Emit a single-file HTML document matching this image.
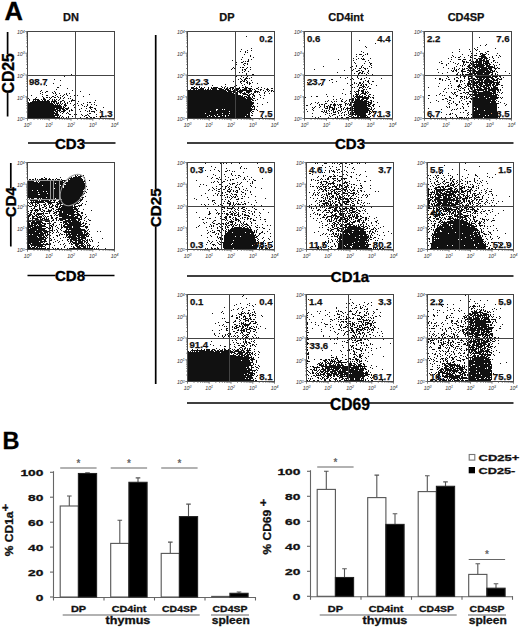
<!DOCTYPE html>
<html><head><meta charset="utf-8"><style>
html,body{margin:0;padding:0;background:#fff;}
svg{display:block;font-family:"Liberation Sans",sans-serif;}
.tk{font-size:5.2px;fill:#333;font-style:italic;}
.tks{font-size:3.5px;}
.q{font-size:9.6px;font-weight:bold;fill:#111;stroke:#111;stroke-width:0.25px;}
.t{font-size:11px;font-weight:bold;fill:#111;stroke:#111;stroke-width:0.25px;}
.ax{font-size:15px;font-weight:bold;fill:#000;stroke:#000;stroke-width:0.35px;}
.big{font-size:24px;font-weight:bold;fill:#000;}
.bt{font-weight:bold;fill:#111;}
</style></head><body>
<svg width="520" height="630" viewBox="0 0 520 630">
<rect width="520" height="630" fill="#fff"/>
<path transform="translate(27,31.5)" d="M44 43h1M37 45h1M27 48h1M33 49h1M26 52h1M19 54h1M33 54h1M30 56h2M40 57h1M29 58h1M14 59h1M45 59h1M13 60h1M19 60h2M27 60h1M53 60h1M15 61h1M18 61h1M25 61h1M28 61h1M13 62h1M26 62h1M28 62h1M32 62h1M39 62h1M42 62h1M15 63h1M29 63h1M37 63h1M39 63h1M62 63h1M4 64h1M19 64h2M28 64h1M33 64h1M36 64h1M40 64h1M47 64h1M50 64h1M15 65h1M25 65h2M30 65h1M35 65h1M43 65h1M56 65h1M9 66h1M16 66h1M19 66h2M22 66h1M24 66h1M27 66h2M31 66h1M33 66h1M37 66h1M1 67h1M8 67h1M16 67h2M23 67h1M33 67h1M36 67h1M41 67h1M43 67h1M2 68h1M6 68h6M14 68h1M16 68h3M22 68h1M25 68h1M27 68h1M29 68h1M32 68h1M45 68h1M2 69h1M6 69h1M8 69h1M10 69h3M15 69h1M17 69h2M20 69h2M25 69h1M27 69h2M31 69h1M35 69h2M44 69h4M68 69h1M5 70h18M24 70h6M33 70h2M37 70h1M42 70h1M44 70h1M51 70h1M1 71h1M3 71h20M24 71h1M26 71h2M29 71h1M31 71h1M33 71h1M37 71h1M40 71h1M60 71h1M62 71h2M67 71h1M1 72h25M27 72h1M29 72h3M33 72h1M35 72h1M38 72h1M40 72h1M43 72h1M50 72h1M56 72h1M1 73h26M28 73h1M30 73h1M32 73h1M34 73h1M37 73h2M47 73h1M54 73h1M60 73h1M64 73h1M67 73h1M1 74h33M37 74h3M46 74h1M51 74h1M55 74h1M60 74h1M69 74h1M1 75h34M36 75h1M38 75h1M57 75h1M59 75h1M63 75h1M1 76h34M36 76h2M41 76h1M47 76h1M62 76h4M76 76h1M1 77h27M29 77h8M38 77h4M54 77h1M59 77h1M63 77h1M67 77h2M1 78h30M32 78h2M35 78h3M39 78h2M44 78h1M52 78h1M64 78h1M68 78h1M1 79h28M30 79h4M36 79h3M42 79h1M44 79h2M58 79h1M62 79h1M69 79h1M73 79h1M1 80h26M28 80h3M32 80h1M34 80h4M42 80h1M53 80h1M60 80h1M62 80h1M64 80h4M1 81h27M29 81h2M33 81h1M36 81h1M40 81h1M67 81h1M1 82h30M35 82h1M39 82h1M41 82h1M62 82h2M1 83h26M28 83h4M42 83h2M47 83h1M49 83h1M54 83h1M60 83h1M69 83h1M1 84h31M33 84h1M55 84h1M58 84h2M61 84h1M1 85h27M30 85h1M32 85h1M35 85h1M41 85h1M45 85h1M48 85h1M57 85h1M62 85h1M69 85h1M1 86h32M34 86h1M36 86h1M39 86h1M41 86h1M53 86h1M59 86h2M63 86h2M66 86h2M73 86h1" stroke="#111" stroke-width="1" fill="none"/>
<rect x="27.5" y="31.5" width="87" height="87" fill="none" stroke="#444" stroke-width="1"/>
<path d="M75.5 31v88M27 75.5h88" stroke="#444" stroke-width="1"/>
<text x="24.7" y="121.4" text-anchor="end" class="tk">10<tspan dy="-1.8" class="tks">0</tspan></text>
<text x="27.5" y="126.5" text-anchor="middle" class="tk">10<tspan dy="-1.8" class="tks">0</tspan></text>
<text x="24.7" y="99.7" text-anchor="end" class="tk">10<tspan dy="-1.8" class="tks">1</tspan></text>
<text x="49.2" y="126.5" text-anchor="middle" class="tk">10<tspan dy="-1.8" class="tks">1</tspan></text>
<text x="24.7" y="77.9" text-anchor="end" class="tk">10<tspan dy="-1.8" class="tks">2</tspan></text>
<text x="71.0" y="126.5" text-anchor="middle" class="tk">10<tspan dy="-1.8" class="tks">2</tspan></text>
<text x="24.7" y="56.1" text-anchor="end" class="tk">10<tspan dy="-1.8" class="tks">3</tspan></text>
<text x="92.8" y="126.5" text-anchor="middle" class="tk">10<tspan dy="-1.8" class="tks">3</tspan></text>
<text x="24.7" y="34.4" text-anchor="end" class="tk">10<tspan dy="-1.8" class="tks">4</tspan></text>
<text x="114.5" y="126.5" text-anchor="middle" class="tk">10<tspan dy="-1.8" class="tks">4</tspan></text>
<path d="M25.3 118.5h2.2M27.5 118.5v2.2M26.2 112.0h1.3M34.0 118.5v1.3M26.2 108.1h1.3M37.9 118.5v1.3M26.2 105.4h1.3M40.6 118.5v1.3M26.2 103.3h1.3M42.7 118.5v1.3M26.2 101.6h1.3M44.4 118.5v1.3M26.2 100.1h1.3M45.9 118.5v1.3M26.2 98.9h1.3M47.1 118.5v1.3M26.2 97.7h1.3M48.3 118.5v1.3M25.3 96.8h2.2M49.2 118.5v2.2M26.2 90.2h1.3M55.8 118.5v1.3M26.2 86.4h1.3M59.6 118.5v1.3M26.2 83.7h1.3M62.3 118.5v1.3M26.2 81.5h1.3M64.5 118.5v1.3M26.2 79.8h1.3M66.2 118.5v1.3M26.2 78.4h1.3M67.6 118.5v1.3M26.2 77.1h1.3M68.9 118.5v1.3M26.2 76.0h1.3M70.0 118.5v1.3M25.3 75.0h2.2M71.0 118.5v2.2M26.2 68.5h1.3M77.5 118.5v1.3M26.2 64.6h1.3M81.4 118.5v1.3M26.2 61.9h1.3M84.1 118.5v1.3M26.2 59.8h1.3M86.2 118.5v1.3M26.2 58.1h1.3M87.9 118.5v1.3M26.2 56.6h1.3M89.4 118.5v1.3M26.2 55.4h1.3M90.6 118.5v1.3M26.2 54.2h1.3M91.8 118.5v1.3M25.3 53.2h2.2M92.8 118.5v2.2M26.2 46.7h1.3M99.3 118.5v1.3M26.2 42.9h1.3M103.1 118.5v1.3M26.2 40.2h1.3M105.8 118.5v1.3M26.2 38.0h1.3M108.0 118.5v1.3M26.2 36.3h1.3M109.7 118.5v1.3M26.2 34.9h1.3M111.1 118.5v1.3M26.2 33.6h1.3M112.4 118.5v1.3M26.2 32.5h1.3M113.5 118.5v1.3M25.3 31.5h2.2M114.5 118.5v2.2" stroke="#555" stroke-width="0.8" fill="none"/>
<text x="112.5" y="116.7" class="q" text-anchor="end">1.3</text>
<text x="29" y="85.2" class="q">98.7</text>
<path transform="translate(27,162.5)" d="M48 13h1M50 13h1M53 13h1M56 13h1M48 14h2M51 14h4M17 15h1M33 15h1M44 15h1M46 15h8M57 15h1M8 16h1M14 16h2M18 16h2M22 16h1M29 16h1M42 16h13M57 16h1M2 17h2M5 17h2M8 17h1M10 17h1M12 17h8M21 17h3M25 17h2M28 17h1M30 17h3M34 17h1M41 17h1M43 17h13M4 18h12M18 18h2M21 18h10M32 18h1M34 18h6M41 18h15M57 18h1M62 18h1M1 19h6M9 19h1M11 19h1M13 19h23M37 19h1M41 19h18M1 20h10M12 20h25M39 20h18M58 20h1M1 21h27M29 21h7M38 21h21M1 22h35M39 22h19M1 23h14M16 23h17M34 23h2M37 23h22M1 24h35M37 24h23M1 25h35M37 25h22M1 26h26M28 26h30M1 27h56M60 27h1M1 28h4M6 28h4M11 28h45M1 29h15M17 29h2M20 29h39M1 30h10M12 30h44M59 30h1M1 31h19M21 31h37M1 32h10M13 32h13M27 32h30M1 33h22M24 33h32M1 34h53M58 34h1M1 35h18M20 35h33M54 35h3M2 36h1M4 36h3M10 36h2M13 36h1M15 36h8M24 36h4M29 36h4M34 36h20M55 36h1M1 37h3M5 37h1M8 37h6M15 37h9M25 37h27M53 37h3M3 38h8M12 38h1M14 38h8M23 38h2M26 38h3M32 38h23M4 39h1M6 39h1M8 39h9M18 39h6M27 39h1M31 39h3M35 39h17M53 39h1M59 39h1M1 40h1M3 40h15M20 40h8M29 40h2M32 40h19M52 40h1M2 41h1M4 41h2M8 41h1M10 41h2M18 41h1M21 41h4M30 41h22M55 41h1M3 42h1M5 42h1M8 42h2M12 42h1M16 42h3M21 42h1M23 42h1M25 42h1M29 42h3M33 42h1M36 42h13M54 42h1M58 42h1M1 43h1M5 43h2M8 43h1M10 43h1M12 43h1M14 43h1M17 43h1M19 43h1M22 43h1M25 43h2M28 43h1M30 43h1M33 43h13M47 43h1M51 43h4M2 44h3M7 44h3M12 44h1M17 44h2M22 44h1M24 44h2M28 44h3M32 44h2M35 44h11M47 44h4M52 44h1M7 45h1M12 45h1M15 45h2M19 45h1M22 45h3M29 45h2M32 45h1M34 45h15M4 46h1M6 46h2M12 46h2M18 46h2M25 46h2M31 46h15M47 46h3M51 46h1M5 47h1M8 47h3M12 47h2M15 47h1M21 47h1M24 47h1M26 47h1M29 47h22M56 47h1M3 48h3M7 48h5M13 48h1M16 48h2M21 48h4M28 48h1M31 48h1M33 48h14M49 48h2M64 48h1M1 49h1M4 49h1M8 49h1M10 49h1M14 49h2M17 49h1M19 49h5M26 49h1M29 49h6M36 49h13M50 49h3M3 50h2M7 50h1M9 50h1M16 50h1M22 50h1M27 50h3M32 50h3M36 50h12M49 50h2M54 50h2M1 51h1M3 51h1M6 51h2M10 51h7M18 51h3M22 51h1M26 51h2M29 51h1M32 51h15M50 51h2M54 51h2M2 52h3M7 52h1M9 52h6M16 52h1M28 52h1M31 52h9M41 52h12M58 52h1M1 53h3M5 53h1M8 53h2M11 53h1M15 53h1M17 53h1M23 53h2M27 53h1M29 53h2M32 53h10M44 53h4M50 53h4M55 53h1M1 54h2M5 54h3M9 54h2M12 54h3M16 54h1M18 54h1M20 54h2M24 54h1M32 54h15M48 54h3M53 54h2M59 54h1M1 55h1M5 55h2M10 55h5M17 55h1M19 55h1M24 55h2M29 55h2M35 55h16M53 55h2M58 55h1M1 56h1M3 56h1M5 56h6M13 56h1M15 56h3M19 56h1M21 56h1M24 56h2M28 56h2M32 56h21M54 56h1M57 56h1M1 57h1M5 57h1M8 57h4M13 57h3M17 57h5M26 57h1M29 57h1M32 57h7M41 57h2M44 57h5M51 57h4M61 57h1M1 58h1M4 58h1M6 58h9M16 58h1M19 58h1M22 58h1M25 58h2M29 58h1M31 58h1M33 58h3M38 58h12M51 58h2M57 58h1M62 58h2M1 59h3M5 59h3M9 59h6M18 59h4M24 59h1M36 59h8M45 59h7M53 59h1M59 59h1M1 60h1M4 60h12M22 60h1M27 60h2M33 60h2M36 60h4M41 60h13M56 60h1M1 61h2M4 61h10M15 61h4M20 61h2M23 61h1M26 61h1M36 61h1M38 61h3M42 61h12M55 61h2M58 61h2M1 62h2M4 62h2M7 62h3M11 62h4M17 62h2M22 62h1M25 62h2M32 62h1M34 62h1M37 62h18M58 62h1M62 62h1M1 63h8M10 63h1M12 63h6M23 63h2M26 63h1M29 63h1M34 63h1M36 63h2M40 63h14M56 63h2M1 64h5M7 64h12M22 64h1M24 64h2M28 64h1M34 64h1M36 64h9M46 64h11M58 64h3M1 65h3M5 65h10M19 65h2M22 65h2M25 65h1M30 65h1M34 65h2M37 65h8M46 65h7M58 65h3M1 66h1M3 66h16M21 66h1M23 66h1M25 66h1M31 66h1M34 66h1M39 66h2M42 66h12M59 66h1M1 67h9M11 67h7M25 67h1M29 67h1M33 67h1M39 67h19M61 67h1M1 68h19M22 68h4M27 68h1M30 68h1M34 68h1M38 68h2M41 68h1M44 68h15M60 68h1M1 69h7M9 69h6M16 69h6M25 69h1M30 69h1M36 69h19M57 69h3M62 69h1M70 69h1M73 69h1M1 70h15M17 70h4M22 70h2M26 70h1M29 70h1M31 70h1M37 70h19M57 70h2M60 70h1M1 71h11M13 71h6M20 71h1M25 71h1M33 71h1M39 71h1M41 71h2M44 71h12M57 71h1M59 71h3M1 72h1M3 72h2M6 72h11M18 72h1M20 72h2M32 72h1M34 72h2M37 72h1M39 72h11M51 72h10M62 72h1M1 73h16M18 73h3M23 73h1M29 73h2M32 73h1M39 73h2M42 73h2M45 73h15M61 73h1M1 74h9M11 74h4M16 74h2M19 74h1M30 74h1M39 74h1M41 74h8M50 74h3M54 74h4M59 74h3M1 75h10M12 75h7M20 75h1M26 75h1M36 75h1M38 75h1M40 75h10M51 75h8M64 75h1M1 76h16M18 76h2M23 76h1M33 76h1M42 76h1M44 76h9M54 76h5M75 76h1M1 77h18M24 77h1M27 77h1M40 77h2M43 77h7M51 77h5M58 77h1M60 77h1M62 77h1M64 77h1M1 78h14M17 78h2M23 78h2M30 78h1M35 78h1M40 78h1M43 78h2M46 78h8M55 78h3M59 78h2M62 78h1M65 78h1M1 79h11M13 79h7M22 79h1M28 79h1M32 79h1M41 79h1M43 79h3M48 79h2M51 79h5M57 79h2M60 79h1M63 79h1M65 79h1M1 80h15M17 80h1M26 80h1M31 80h1M43 80h1M45 80h5M51 80h5M57 80h1M59 80h2M71 80h1M1 81h3M5 81h9M16 81h1M19 81h2M23 81h1M37 81h1M42 81h1M44 81h1M46 81h11M59 81h1M61 81h1M1 82h1M3 82h21M33 82h1M36 82h1M44 82h2M48 82h4M54 82h2M57 82h1M60 82h1M62 82h1M1 83h2M4 83h12M18 83h1M27 83h1M38 83h1M48 83h3M52 83h5M58 83h1M60 83h4M71 83h1M1 84h2M4 84h1M7 84h2M10 84h8M37 84h1M44 84h1M46 84h1M49 84h4M54 84h5M60 84h1M62 84h1M66 84h1M70 84h1M1 85h3M5 85h3M9 85h2M12 85h1M14 85h1M18 85h1M25 85h1M37 85h1M46 85h2M50 85h4M56 85h3M60 85h1M62 85h1M65 85h1M1 86h18M20 86h3M26 86h1M28 86h1M30 86h2M34 86h1M40 86h1M42 86h24M67 86h1M69 86h1M71 86h1M78 86h1" stroke="#111" stroke-width="1" fill="none"/>
<rect x="27.5" y="162.5" width="87" height="87" fill="none" stroke="#444" stroke-width="1"/>
<text x="24.7" y="252.4" text-anchor="end" class="tk">10<tspan dy="-1.8" class="tks">0</tspan></text>
<text x="27.5" y="257.5" text-anchor="middle" class="tk">10<tspan dy="-1.8" class="tks">0</tspan></text>
<text x="24.7" y="230.7" text-anchor="end" class="tk">10<tspan dy="-1.8" class="tks">1</tspan></text>
<text x="49.2" y="257.5" text-anchor="middle" class="tk">10<tspan dy="-1.8" class="tks">1</tspan></text>
<text x="24.7" y="208.9" text-anchor="end" class="tk">10<tspan dy="-1.8" class="tks">2</tspan></text>
<text x="71.0" y="257.5" text-anchor="middle" class="tk">10<tspan dy="-1.8" class="tks">2</tspan></text>
<text x="24.7" y="187.2" text-anchor="end" class="tk">10<tspan dy="-1.8" class="tks">3</tspan></text>
<text x="92.8" y="257.5" text-anchor="middle" class="tk">10<tspan dy="-1.8" class="tks">3</tspan></text>
<text x="24.7" y="165.4" text-anchor="end" class="tk">10<tspan dy="-1.8" class="tks">4</tspan></text>
<text x="114.5" y="257.5" text-anchor="middle" class="tk">10<tspan dy="-1.8" class="tks">4</tspan></text>
<path d="M25.3 249.5h2.2M27.5 249.5v2.2M26.2 243.0h1.3M34.0 249.5v1.3M26.2 239.1h1.3M37.9 249.5v1.3M26.2 236.4h1.3M40.6 249.5v1.3M26.2 234.3h1.3M42.7 249.5v1.3M26.2 232.6h1.3M44.4 249.5v1.3M26.2 231.1h1.3M45.9 249.5v1.3M26.2 229.9h1.3M47.1 249.5v1.3M26.2 228.7h1.3M48.3 249.5v1.3M25.3 227.8h2.2M49.2 249.5v2.2M26.2 221.2h1.3M55.8 249.5v1.3M26.2 217.4h1.3M59.6 249.5v1.3M26.2 214.7h1.3M62.3 249.5v1.3M26.2 212.5h1.3M64.5 249.5v1.3M26.2 210.8h1.3M66.2 249.5v1.3M26.2 209.4h1.3M67.6 249.5v1.3M26.2 208.1h1.3M68.9 249.5v1.3M26.2 207.0h1.3M70.0 249.5v1.3M25.3 206.0h2.2M71.0 249.5v2.2M26.2 199.5h1.3M77.5 249.5v1.3M26.2 195.6h1.3M81.4 249.5v1.3M26.2 192.9h1.3M84.1 249.5v1.3M26.2 190.8h1.3M86.2 249.5v1.3M26.2 189.1h1.3M87.9 249.5v1.3M26.2 187.6h1.3M89.4 249.5v1.3M26.2 186.4h1.3M90.6 249.5v1.3M26.2 185.2h1.3M91.8 249.5v1.3M25.3 184.2h2.2M92.8 249.5v2.2M26.2 177.7h1.3M99.3 249.5v1.3M26.2 173.9h1.3M103.1 249.5v1.3M26.2 171.2h1.3M105.8 249.5v1.3M26.2 169.0h1.3M108.0 249.5v1.3M26.2 167.3h1.3M109.7 249.5v1.3M26.2 165.9h1.3M111.1 249.5v1.3M26.2 164.6h1.3M112.4 249.5v1.3M26.2 163.5h1.3M113.5 249.5v1.3M25.3 162.5h2.2M114.5 249.5v2.2" stroke="#555" stroke-width="0.8" fill="none"/>
<path transform="translate(187,31.5)" d="M59 5h1M64 17h1M54 18h1M60 19h1M64 19h1M53 20h1M58 20h1M58 21h1M60 21h1M57 23h1M63 24h1M63 25h1M55 26h1M66 26h1M54 28h1M61 28h1M64 28h1M45 29h1M61 29h1M56 30h1M58 30h1M60 30h2M49 31h1M54 31h2M57 32h2M60 32h1M49 33h1M56 33h1M60 33h1M57 34h1M46 36h1M53 36h1M55 36h2M60 36h1M63 36h1M45 37h1M47 37h1M59 37h1M44 38h1M55 38h1M57 38h2M63 38h1M55 39h1M58 39h1M57 40h1M61 40h1M52 41h1M55 41h1M59 42h1M59 43h1M65 43h2M56 44h1M61 44h2M49 45h1M54 45h1M60 45h1M56 46h1M59 46h1M64 46h1M53 47h1M58 47h3M62 47h1M51 48h1M54 48h1M57 48h2M55 49h1M57 49h1M59 49h1M64 49h1M46 50h1M53 50h2M56 50h2M60 50h1M53 51h1M59 51h2M62 51h1M65 51h1M21 52h1M54 52h1M60 52h1M62 52h2M70 52h1M38 53h1M57 53h1M62 53h1M25 54h1M49 54h1M55 54h1M7 55h1M12 55h1M34 55h1M38 55h1M47 55h1M58 55h1M64 55h1M4 56h3M9 56h1M12 56h1M14 56h1M17 56h1M21 56h1M24 56h1M26 56h5M35 56h1M37 56h1M40 56h1M43 56h4M48 56h1M52 56h1M55 56h2M58 56h3M71 56h1M74 56h1M4 57h7M13 57h4M21 57h1M24 57h6M31 57h4M37 57h1M39 57h2M42 57h2M45 57h2M49 57h4M57 57h3M61 57h4M69 57h2M77 57h1M80 57h1M84 57h2M3 58h1M6 58h2M9 58h1M11 58h6M18 58h1M20 58h2M23 58h1M25 58h5M32 58h5M38 58h4M43 58h1M45 58h1M47 58h5M53 58h1M55 58h5M62 58h2M65 58h1M67 58h1M71 58h1M73 58h2M79 58h3M1 59h38M40 59h4M46 59h5M52 59h13M68 59h1M73 59h1M76 59h1M80 59h1M82 59h1M84 59h2M1 60h39M41 60h8M50 60h6M59 60h6M67 60h5M78 60h1M81 60h1M84 60h1M86 60h1M1 61h44M46 61h5M52 61h3M57 61h1M59 61h4M67 61h2M70 61h1M72 61h1M77 61h1M1 62h46M48 62h3M53 62h1M55 62h4M61 62h1M64 62h1M66 62h1M77 62h1M82 62h1M1 63h50M56 63h5M62 63h2M65 63h2M72 63h1M1 64h53M55 64h1M60 64h3M66 64h2M73 64h1M77 64h1M1 65h55M57 65h3M61 65h2M65 65h1M67 65h1M1 66h57M59 66h5M65 66h1M73 66h1M1 67h58M60 67h5M66 67h2M76 67h1M1 68h65M70 68h1M1 69h63M65 69h2M68 69h1M1 70h64M1 71h66M80 71h1M1 72h66M70 72h1M1 73h65M75 73h1M1 74h64M66 74h1M1 75h67M70 75h1M1 76h63M65 76h1M67 76h1M1 77h64M67 77h1M1 78h28M31 78h4M36 78h1M38 78h30M69 78h1M1 79h28M30 79h35M70 79h1M1 80h22M24 80h18M43 80h21M65 80h2M1 81h62M64 81h1M1 82h17M19 82h16M36 82h6M43 82h20M65 82h1M1 83h29M31 83h29M61 83h2M1 84h21M23 84h4M28 84h7M36 84h2M39 84h2M42 84h21M64 84h2M1 85h19M21 85h3M25 85h3M29 85h2M33 85h5M39 85h19M59 85h4M1 86h63M75 86h1" stroke="#111" stroke-width="1" fill="none"/>
<rect x="187.5" y="31.5" width="87" height="87" fill="none" stroke="#444" stroke-width="1"/>
<path d="M235.5 31v88M187 75.5h88" stroke="#444" stroke-width="1"/>
<text x="184.7" y="121.4" text-anchor="end" class="tk">10<tspan dy="-1.8" class="tks">0</tspan></text>
<text x="187.5" y="126.5" text-anchor="middle" class="tk">10<tspan dy="-1.8" class="tks">0</tspan></text>
<text x="184.7" y="99.7" text-anchor="end" class="tk">10<tspan dy="-1.8" class="tks">1</tspan></text>
<text x="209.2" y="126.5" text-anchor="middle" class="tk">10<tspan dy="-1.8" class="tks">1</tspan></text>
<text x="184.7" y="77.9" text-anchor="end" class="tk">10<tspan dy="-1.8" class="tks">2</tspan></text>
<text x="231.0" y="126.5" text-anchor="middle" class="tk">10<tspan dy="-1.8" class="tks">2</tspan></text>
<text x="184.7" y="56.1" text-anchor="end" class="tk">10<tspan dy="-1.8" class="tks">3</tspan></text>
<text x="252.8" y="126.5" text-anchor="middle" class="tk">10<tspan dy="-1.8" class="tks">3</tspan></text>
<text x="184.7" y="34.4" text-anchor="end" class="tk">10<tspan dy="-1.8" class="tks">4</tspan></text>
<text x="274.5" y="126.5" text-anchor="middle" class="tk">10<tspan dy="-1.8" class="tks">4</tspan></text>
<path d="M185.3 118.5h2.2M187.5 118.5v2.2M186.2 112.0h1.3M194.0 118.5v1.3M186.2 108.1h1.3M197.9 118.5v1.3M186.2 105.4h1.3M200.6 118.5v1.3M186.2 103.3h1.3M202.7 118.5v1.3M186.2 101.6h1.3M204.4 118.5v1.3M186.2 100.1h1.3M205.9 118.5v1.3M186.2 98.9h1.3M207.1 118.5v1.3M186.2 97.7h1.3M208.3 118.5v1.3M185.3 96.8h2.2M209.2 118.5v2.2M186.2 90.2h1.3M215.8 118.5v1.3M186.2 86.4h1.3M219.6 118.5v1.3M186.2 83.7h1.3M222.3 118.5v1.3M186.2 81.5h1.3M224.5 118.5v1.3M186.2 79.8h1.3M226.2 118.5v1.3M186.2 78.4h1.3M227.6 118.5v1.3M186.2 77.1h1.3M228.9 118.5v1.3M186.2 76.0h1.3M230.0 118.5v1.3M185.3 75.0h2.2M231.0 118.5v2.2M186.2 68.5h1.3M237.5 118.5v1.3M186.2 64.6h1.3M241.4 118.5v1.3M186.2 61.9h1.3M244.1 118.5v1.3M186.2 59.8h1.3M246.2 118.5v1.3M186.2 58.1h1.3M247.9 118.5v1.3M186.2 56.6h1.3M249.4 118.5v1.3M186.2 55.4h1.3M250.6 118.5v1.3M186.2 54.2h1.3M251.8 118.5v1.3M185.3 53.2h2.2M252.8 118.5v2.2M186.2 46.7h1.3M259.3 118.5v1.3M186.2 42.9h1.3M263.1 118.5v1.3M186.2 40.2h1.3M265.8 118.5v1.3M186.2 38.0h1.3M268.0 118.5v1.3M186.2 36.3h1.3M269.7 118.5v1.3M186.2 34.9h1.3M271.1 118.5v1.3M186.2 33.6h1.3M272.4 118.5v1.3M186.2 32.5h1.3M273.5 118.5v1.3M185.3 31.5h2.2M274.5 118.5v2.2" stroke="#555" stroke-width="0.8" fill="none"/>
<text x="272.5" y="42" class="q" text-anchor="end">0.2</text>
<text x="272.5" y="116.7" class="q" text-anchor="end">7.5</text>
<text x="189.8" y="85.2" class="q">92.3</text>
<path transform="translate(304,31.5)" d="M55 9h1M71 12h1M61 15h1M62 16h1M57 20h1M59 21h1M63 22h1M52 23h1M55 23h3M61 23h1M63 23h1M59 24h1M52 25h1M58 25h1M49 27h1M54 27h1M57 27h1M59 27h1M66 27h1M34 28h1M52 28h1M58 28h3M49 29h1M64 29h1M61 30h1M50 31h1M65 31h1M51 32h1M60 32h1M66 32h2M66 33h1M52 34h1M58 34h1M67 34h1M19 35h1M48 35h1M52 35h1M57 35h1M65 35h1M46 36h1M57 36h1M59 36h1M67 36h1M51 37h1M55 37h2M60 37h2M63 37h1M10 38h1M49 38h1M61 38h1M40 39h1M48 39h1M54 39h2M57 39h1M64 39h1M47 40h1M52 40h2M58 40h2M64 40h1M33 41h1M55 41h2M58 41h1M63 41h1M50 42h1M54 42h2M57 42h2M60 42h1M64 42h1M47 43h1M54 43h1M62 43h1M68 43h1M51 44h1M55 44h2M64 44h2M53 45h1M36 46h1M43 46h1M53 46h1M62 46h1M41 47h1M48 47h1M54 47h1M57 47h1M60 47h1M65 47h1M77 47h1M27 48h2M46 48h1M49 48h1M56 48h2M25 49h1M61 49h1M64 49h1M32 50h1M59 50h1M63 50h2M68 50h2M3 51h1M28 51h1M47 51h1M50 51h1M55 51h2M59 51h1M64 51h1M8 52h1M16 52h1M43 52h1M50 52h1M52 52h1M55 52h2M58 52h1M65 52h1M48 53h1M54 53h1M57 53h1M59 53h1M61 53h2M67 53h1M17 54h1M46 54h1M54 54h1M56 54h2M59 54h1M62 54h1M72 54h1M53 55h1M58 55h3M64 55h1M48 56h1M50 56h1M55 56h3M59 56h1M61 56h1M63 56h1M55 57h1M58 57h1M65 57h2M39 58h1M54 58h1M59 58h2M62 58h1M54 59h2M57 59h3M46 60h2M50 60h1M52 60h3M57 60h3M61 60h1M63 60h1M47 61h1M51 61h1M54 61h1M58 61h2M61 61h2M64 61h1M38 62h1M46 62h2M52 62h1M54 62h1M57 62h5M63 62h1M22 63h1M41 63h1M51 63h4M56 63h1M60 63h2M65 63h2M47 64h1M49 64h1M52 64h2M55 64h1M58 64h1M62 64h1M64 64h1M69 64h1M7 65h1M12 65h2M23 65h1M29 65h1M49 65h1M51 65h8M60 65h2M64 65h2M1 66h1M50 66h1M52 66h13M66 66h1M68 66h2M36 67h1M48 67h2M51 67h1M53 67h3M58 67h7M69 67h1M29 68h1M32 68h1M38 68h1M45 68h2M48 68h2M51 68h5M57 68h3M62 68h2M24 69h1M37 69h1M42 69h1M45 69h1M47 69h3M51 69h8M60 69h3M66 69h2M21 70h1M23 70h1M27 70h1M30 70h1M32 70h1M37 70h2M41 70h1M45 70h1M47 70h2M50 70h15M67 70h1M69 70h1M11 71h1M14 71h1M28 71h1M40 71h1M46 71h17M64 71h4M73 71h1M7 72h1M13 72h1M21 72h2M30 72h1M41 72h2M44 72h1M46 72h2M50 72h15M66 72h2M6 73h1M15 73h1M17 73h2M20 73h1M26 73h2M29 73h3M33 73h1M35 73h3M41 73h1M43 73h1M45 73h3M49 73h14M64 73h3M69 73h2M2 74h2M15 74h1M20 74h1M24 74h1M26 74h1M29 74h3M34 74h1M36 74h1M41 74h1M45 74h3M49 74h17M68 74h2M11 75h1M16 75h1M20 75h1M22 75h2M25 75h2M30 75h1M36 75h2M47 75h16M64 75h3M69 75h1M75 75h1M8 76h1M10 76h1M15 76h1M20 76h1M23 76h1M25 76h4M30 76h1M34 76h1M36 76h1M40 76h1M43 76h1M46 76h3M50 76h14M67 76h1M9 77h1M21 77h3M25 77h1M28 77h3M32 77h1M37 77h1M39 77h1M42 77h5M48 77h18M67 77h1M70 77h1M2 78h1M8 78h1M18 78h1M25 78h1M28 78h3M32 78h1M37 78h1M39 78h1M41 78h1M43 78h1M46 78h3M50 78h15M66 78h2M69 78h1M9 79h1M20 79h1M22 79h1M24 79h1M27 79h1M29 79h1M34 79h2M37 79h1M43 79h1M45 79h21M68 79h1M3 80h1M17 80h2M20 80h1M22 80h1M25 80h1M29 80h1M31 80h1M33 80h1M36 80h1M41 80h1M44 80h1M48 80h1M50 80h14M65 80h2M19 81h1M21 81h2M29 81h3M34 81h1M38 81h1M40 81h1M44 81h1M46 81h18M65 81h1M67 81h1M69 81h1M8 82h1M23 82h1M25 82h1M27 82h1M34 82h1M37 82h1M44 82h1M46 82h1M48 82h2M51 82h11M65 82h2M71 82h1M21 83h1M29 83h3M40 83h1M42 83h1M45 83h2M48 83h14M64 83h2M25 84h1M28 84h1M35 84h1M37 84h1M40 84h1M44 84h1M47 84h2M51 84h1M53 84h10M68 84h1M73 84h1M8 85h1M16 85h1M26 85h1M33 85h1M45 85h2M49 85h1M53 85h2M56 85h6M63 85h1M66 85h1M75 85h1M11 86h1M14 86h1M24 86h1M31 86h1M33 86h1M37 86h2M42 86h3M47 86h19" stroke="#111" stroke-width="1" fill="none"/>
<rect x="304.5" y="31.5" width="88" height="87" fill="none" stroke="#444" stroke-width="1"/>
<path d="M351.5 31v88M304 75.5h89" stroke="#444" stroke-width="1"/>
<text x="301.7" y="121.4" text-anchor="end" class="tk">10<tspan dy="-1.8" class="tks">0</tspan></text>
<text x="304.5" y="126.5" text-anchor="middle" class="tk">10<tspan dy="-1.8" class="tks">0</tspan></text>
<text x="301.7" y="99.7" text-anchor="end" class="tk">10<tspan dy="-1.8" class="tks">1</tspan></text>
<text x="326.5" y="126.5" text-anchor="middle" class="tk">10<tspan dy="-1.8" class="tks">1</tspan></text>
<text x="301.7" y="77.9" text-anchor="end" class="tk">10<tspan dy="-1.8" class="tks">2</tspan></text>
<text x="348.5" y="126.5" text-anchor="middle" class="tk">10<tspan dy="-1.8" class="tks">2</tspan></text>
<text x="301.7" y="56.1" text-anchor="end" class="tk">10<tspan dy="-1.8" class="tks">3</tspan></text>
<text x="370.5" y="126.5" text-anchor="middle" class="tk">10<tspan dy="-1.8" class="tks">3</tspan></text>
<text x="301.7" y="34.4" text-anchor="end" class="tk">10<tspan dy="-1.8" class="tks">4</tspan></text>
<text x="392.5" y="126.5" text-anchor="middle" class="tk">10<tspan dy="-1.8" class="tks">4</tspan></text>
<path d="M302.3 118.5h2.2M304.5 118.5v2.2M303.2 112.0h1.3M311.1 118.5v1.3M303.2 108.1h1.3M315.0 118.5v1.3M303.2 105.4h1.3M317.7 118.5v1.3M303.2 103.3h1.3M319.9 118.5v1.3M303.2 101.6h1.3M321.6 118.5v1.3M303.2 100.1h1.3M323.1 118.5v1.3M303.2 98.9h1.3M324.4 118.5v1.3M303.2 97.7h1.3M325.5 118.5v1.3M302.3 96.8h2.2M326.5 118.5v2.2M303.2 90.2h1.3M333.1 118.5v1.3M303.2 86.4h1.3M337.0 118.5v1.3M303.2 83.7h1.3M339.7 118.5v1.3M303.2 81.5h1.3M341.9 118.5v1.3M303.2 79.8h1.3M343.6 118.5v1.3M303.2 78.4h1.3M345.1 118.5v1.3M303.2 77.1h1.3M346.4 118.5v1.3M303.2 76.0h1.3M347.5 118.5v1.3M302.3 75.0h2.2M348.5 118.5v2.2M303.2 68.5h1.3M355.1 118.5v1.3M303.2 64.6h1.3M359.0 118.5v1.3M303.2 61.9h1.3M361.7 118.5v1.3M303.2 59.8h1.3M363.9 118.5v1.3M303.2 58.1h1.3M365.6 118.5v1.3M303.2 56.6h1.3M367.1 118.5v1.3M303.2 55.4h1.3M368.4 118.5v1.3M303.2 54.2h1.3M369.5 118.5v1.3M302.3 53.2h2.2M370.5 118.5v2.2M303.2 46.7h1.3M377.1 118.5v1.3M303.2 42.9h1.3M381.0 118.5v1.3M303.2 40.2h1.3M383.7 118.5v1.3M303.2 38.0h1.3M385.9 118.5v1.3M303.2 36.3h1.3M387.6 118.5v1.3M303.2 34.9h1.3M389.1 118.5v1.3M303.2 33.6h1.3M390.4 118.5v1.3M303.2 32.5h1.3M391.5 118.5v1.3M302.3 31.5h2.2M392.5 118.5v2.2" stroke="#555" stroke-width="0.8" fill="none"/>
<text x="307" y="42" class="q">0.6</text>
<text x="390.5" y="42" class="q" text-anchor="end">4.4</text>
<text x="390.5" y="116.7" class="q" text-anchor="end">71.3</text>
<text x="307" y="85.3" class="q">23.7</text>
<path transform="translate(424,31.5)" d="M55 6h1M62 13h1M56 14h1M61 14h1M53 16h1M48 17h1M50 17h1M71 17h1M35 18h1M45 18h1M51 18h1M53 18h1M52 19h1M35 20h1M46 20h1M55 20h1M63 20h2M28 21h1M61 21h1M47 22h1M52 22h1M56 22h3M62 22h1M73 22h1M38 23h1M56 23h1M58 23h4M64 23h1M28 24h1M44 24h1M47 24h2M50 24h3M57 24h4M72 24h1M75 24h1M29 25h1M36 25h1M46 25h1M55 25h7M68 25h1M76 25h1M27 26h1M31 26h1M34 26h2M40 26h1M46 26h2M57 26h6M65 26h1M68 26h1M74 26h1M24 27h1M50 27h2M54 27h5M60 27h4M69 27h1M27 28h1M34 28h3M39 28h3M46 28h1M52 28h2M55 28h3M59 28h2M62 28h1M65 28h1M38 29h1M45 29h2M52 29h2M55 29h6M62 29h3M69 29h2M17 30h1M26 30h1M38 30h3M42 30h1M47 30h3M51 30h7M59 30h6M69 30h1M15 31h1M29 31h1M39 31h2M42 31h3M46 31h1M49 31h9M59 31h1M61 31h4M67 31h1M71 31h1M73 31h1M17 32h2M24 32h1M31 32h1M34 32h1M39 32h1M46 32h2M49 32h1M52 32h1M54 32h4M59 32h7M22 33h1M33 33h1M39 33h1M41 33h1M45 33h1M47 33h1M49 33h11M61 33h3M65 33h2M69 33h1M75 33h1M22 34h1M36 34h1M38 34h1M40 34h1M44 34h3M48 34h3M52 34h9M62 34h4M70 34h1M72 34h1M32 35h1M38 35h1M43 35h3M49 35h11M62 35h7M70 35h1M19 36h1M30 36h1M44 36h5M50 36h4M55 36h8M64 36h7M73 36h1M24 37h1M28 37h1M30 37h1M35 37h1M38 37h1M40 37h1M42 37h2M45 37h5M51 37h1M53 37h3M57 37h11M70 37h3M74 37h2M13 38h1M30 38h1M32 38h1M34 38h1M38 38h3M44 38h1M46 38h1M48 38h3M53 38h1M55 38h9M65 38h3M71 38h1M27 39h1M29 39h1M31 39h2M37 39h2M43 39h5M49 39h3M54 39h11M66 39h3M70 39h1M28 40h2M32 40h1M37 40h5M45 40h2M48 40h13M62 40h5M68 40h3M72 40h1M81 40h1M14 41h1M23 41h1M34 41h1M38 41h1M43 41h2M46 41h1M49 41h2M52 41h17M73 41h1M18 42h1M33 42h1M38 42h1M45 42h3M49 42h10M60 42h6M68 42h1M71 42h1M85 42h1M32 43h2M36 43h1M38 43h2M41 43h7M50 43h2M53 43h12M67 43h2M71 43h1M73 43h1M16 44h1M24 44h1M27 44h1M33 44h2M39 44h1M43 44h1M46 44h1M48 44h1M50 44h1M53 44h4M58 44h2M61 44h9M71 44h2M23 45h1M36 45h1M39 45h3M44 45h5M51 45h16M68 45h6M75 45h2M24 46h1M32 46h2M36 46h1M40 46h1M44 46h1M47 46h2M52 46h17M71 46h2M76 46h1M79 46h1M11 47h1M15 47h2M22 47h1M30 47h1M34 47h1M40 47h1M44 47h7M53 47h1M55 47h3M59 47h2M62 47h3M67 47h3M73 47h2M77 47h1M15 48h2M18 48h1M24 48h2M30 48h1M44 48h2M48 48h12M61 48h5M68 48h3M72 48h2M75 48h3M18 49h1M21 49h1M32 49h2M36 49h2M40 49h1M45 49h3M49 49h1M51 49h1M54 49h5M60 49h8M69 49h5M26 50h1M32 50h2M36 50h1M38 50h1M44 50h2M47 50h4M52 50h4M57 50h2M60 50h10M73 50h1M75 50h1M36 51h1M44 51h2M47 51h29M15 52h1M26 52h1M40 52h1M43 52h4M48 52h6M55 52h4M60 52h4M65 52h3M69 52h2M72 52h3M35 53h1M37 53h1M43 53h8M52 53h1M54 53h5M61 53h6M68 53h3M72 53h4M24 54h1M27 54h1M34 54h2M41 54h1M43 54h2M46 54h1M48 54h6M55 54h3M59 54h8M68 54h2M71 54h3M77 54h2M14 55h1M33 55h4M42 55h1M44 55h3M48 55h2M52 55h3M56 55h5M62 55h3M66 55h1M69 55h3M4 56h1M27 56h1M34 56h1M37 56h1M40 56h2M46 56h5M52 56h5M59 56h4M64 56h2M67 56h1M69 56h5M78 56h1M21 57h1M24 57h1M36 57h1M38 57h2M44 57h1M46 57h3M50 57h1M53 57h1M55 57h3M60 57h6M67 57h7M20 58h1M30 58h1M32 58h1M34 58h1M40 58h1M44 58h1M47 58h2M50 58h13M64 58h11M76 58h1M35 59h2M40 59h1M45 59h1M48 59h4M53 59h7M61 59h2M64 59h8M73 59h2M76 59h1M19 60h1M33 60h1M45 60h8M54 60h1M59 60h7M68 60h4M74 60h1M22 61h1M27 61h1M30 61h2M39 61h2M42 61h3M48 61h20M69 61h3M73 61h1M75 61h1M78 61h1M16 62h1M28 62h1M30 62h1M36 62h2M41 62h1M44 62h1M50 62h3M54 62h18M77 62h1M15 63h1M29 63h1M31 63h1M43 63h1M45 63h3M49 63h19M69 63h1M71 63h3M4 64h2M12 64h1M18 64h1M20 64h1M32 64h2M46 64h1M48 64h25M74 64h1M25 65h1M32 65h1M36 65h3M40 65h1M42 65h1M45 65h1M47 65h2M51 65h9M61 65h12M25 66h2M37 66h1M40 66h1M42 66h1M44 66h1M49 66h5M55 66h10M66 66h9M76 66h1M78 66h1M4 67h1M21 67h2M27 67h1M29 67h1M36 67h1M38 67h1M42 67h2M46 67h2M49 67h13M63 67h11M77 67h1M18 68h2M23 68h1M40 68h1M47 68h1M49 68h23M12 69h1M25 69h2M37 69h1M49 69h18M68 69h3M72 69h1M14 70h1M23 70h1M29 70h1M35 70h1M42 70h1M45 70h2M48 70h24M74 70h1M6 71h1M25 71h1M29 71h1M35 71h1M46 71h1M49 71h17M67 71h5M76 71h1M24 72h1M27 72h1M31 72h1M38 72h1M43 72h2M48 72h27M80 72h1M25 73h1M32 73h2M39 73h1M43 73h1M49 73h24M82 73h1M32 74h1M49 74h24M81 74h1M22 75h1M25 75h1M38 75h1M44 75h1M48 75h25M23 76h1M25 76h1M39 76h1M48 76h2M51 76h22M74 76h1M4 77h1M33 77h1M36 77h1M39 77h1M48 77h5M54 77h19M17 78h1M28 78h1M30 78h1M32 78h1M49 78h4M54 78h19M27 79h1M41 79h2M48 79h2M51 79h9M61 79h12M49 80h24M17 81h1M36 81h1M39 81h1M44 81h1M49 81h25M26 82h1M28 82h1M43 82h1M49 82h18M68 82h6M22 83h1M25 83h2M31 83h1M44 83h1M47 83h1M49 83h6M56 83h18M8 84h1M32 84h1M43 84h1M49 84h12M62 84h2M65 84h9M32 85h1M49 85h25M6 86h1M17 86h1M21 86h1M26 86h1M28 86h1M33 86h1M35 86h4M40 86h1M42 86h1M44 86h1M47 86h1M49 86h10M60 86h14M75 86h1" stroke="#111" stroke-width="1" fill="none"/>
<rect x="424.5" y="31.5" width="87" height="87" fill="none" stroke="#444" stroke-width="1"/>
<path d="M472.5 31v88M424 75.5h88" stroke="#444" stroke-width="1"/>
<text x="421.7" y="121.4" text-anchor="end" class="tk">10<tspan dy="-1.8" class="tks">0</tspan></text>
<text x="424.5" y="126.5" text-anchor="middle" class="tk">10<tspan dy="-1.8" class="tks">0</tspan></text>
<text x="421.7" y="99.7" text-anchor="end" class="tk">10<tspan dy="-1.8" class="tks">1</tspan></text>
<text x="446.2" y="126.5" text-anchor="middle" class="tk">10<tspan dy="-1.8" class="tks">1</tspan></text>
<text x="421.7" y="77.9" text-anchor="end" class="tk">10<tspan dy="-1.8" class="tks">2</tspan></text>
<text x="468.0" y="126.5" text-anchor="middle" class="tk">10<tspan dy="-1.8" class="tks">2</tspan></text>
<text x="421.7" y="56.1" text-anchor="end" class="tk">10<tspan dy="-1.8" class="tks">3</tspan></text>
<text x="489.8" y="126.5" text-anchor="middle" class="tk">10<tspan dy="-1.8" class="tks">3</tspan></text>
<text x="421.7" y="34.4" text-anchor="end" class="tk">10<tspan dy="-1.8" class="tks">4</tspan></text>
<text x="511.5" y="126.5" text-anchor="middle" class="tk">10<tspan dy="-1.8" class="tks">4</tspan></text>
<path d="M422.3 118.5h2.2M424.5 118.5v2.2M423.2 112.0h1.3M431.0 118.5v1.3M423.2 108.1h1.3M434.9 118.5v1.3M423.2 105.4h1.3M437.6 118.5v1.3M423.2 103.3h1.3M439.7 118.5v1.3M423.2 101.6h1.3M441.4 118.5v1.3M423.2 100.1h1.3M442.9 118.5v1.3M423.2 98.9h1.3M444.1 118.5v1.3M423.2 97.7h1.3M445.3 118.5v1.3M422.3 96.8h2.2M446.2 118.5v2.2M423.2 90.2h1.3M452.8 118.5v1.3M423.2 86.4h1.3M456.6 118.5v1.3M423.2 83.7h1.3M459.3 118.5v1.3M423.2 81.5h1.3M461.5 118.5v1.3M423.2 79.8h1.3M463.2 118.5v1.3M423.2 78.4h1.3M464.6 118.5v1.3M423.2 77.1h1.3M465.9 118.5v1.3M423.2 76.0h1.3M467.0 118.5v1.3M422.3 75.0h2.2M468.0 118.5v2.2M423.2 68.5h1.3M474.5 118.5v1.3M423.2 64.6h1.3M478.4 118.5v1.3M423.2 61.9h1.3M481.1 118.5v1.3M423.2 59.8h1.3M483.2 118.5v1.3M423.2 58.1h1.3M484.9 118.5v1.3M423.2 56.6h1.3M486.4 118.5v1.3M423.2 55.4h1.3M487.6 118.5v1.3M423.2 54.2h1.3M488.8 118.5v1.3M422.3 53.2h2.2M489.8 118.5v2.2M423.2 46.7h1.3M496.3 118.5v1.3M423.2 42.9h1.3M500.1 118.5v1.3M423.2 40.2h1.3M502.8 118.5v1.3M423.2 38.0h1.3M505.0 118.5v1.3M423.2 36.3h1.3M506.7 118.5v1.3M423.2 34.9h1.3M508.1 118.5v1.3M423.2 33.6h1.3M509.4 118.5v1.3M423.2 32.5h1.3M510.5 118.5v1.3M422.3 31.5h2.2M511.5 118.5v2.2" stroke="#555" stroke-width="0.8" fill="none"/>
<text x="427" y="42" class="q">2.2</text>
<text x="509.5" y="42" class="q" text-anchor="end">7.6</text>
<text x="427" y="116.7" class="q">6.7</text>
<text x="509.5" y="116.7" class="q" text-anchor="end">83.5</text>
<path transform="translate(187,162.5)" d="M18 1h1M33 1h1M36 1h1M39 1h1M44 1h1M52 1h1M70 1h1M24 4h1M54 4h1M16 5h1M28 5h1M53 5h1M71 5h1M39 6h1M53 6h1M57 6h1M59 6h1M27 7h1M18 8h1M23 8h1M31 8h1M40 8h1M42 8h1M32 9h1M38 9h2M45 9h1M47 9h1M56 10h1M44 11h1M26 12h1M37 12h1M44 12h1M28 13h1M45 13h1M48 13h1M51 13h2M20 14h1M38 14h1M53 14h1M60 14h1M25 15h1M32 15h1M41 15h1M51 15h1M57 15h1M64 15h1M24 16h1M29 16h2M49 16h1M57 16h1M75 16h1M31 17h1M33 17h1M38 17h1M43 17h1M45 17h2M56 17h1M58 17h1M62 17h1M66 17h1M9 18h1M40 18h1M43 18h1M67 18h2M27 19h1M30 19h1M36 19h2M60 19h1M65 19h1M24 20h1M26 20h1M31 20h1M35 20h1M50 20h1M54 20h1M65 20h1M42 21h1M45 21h3M53 21h1M63 21h1M65 21h1M13 22h1M16 22h1M32 22h2M43 22h1M45 22h1M50 22h1M52 22h1M19 23h1M40 23h1M49 23h1M63 23h1M12 24h1M29 24h1M35 24h1M38 24h2M42 24h1M48 24h1M55 24h1M64 24h1M25 25h1M38 25h1M41 25h1M44 25h1M48 25h2M51 25h1M68 25h1M26 26h1M29 26h1M33 26h1M38 26h1M42 26h1M52 26h1M59 26h1M74 26h1M22 27h1M27 27h1M31 27h2M36 27h2M41 27h2M44 27h1M52 27h1M56 27h1M21 28h1M25 28h1M29 28h1M40 28h1M43 28h1M46 28h1M49 28h2M58 28h1M60 28h1M31 29h2M40 29h4M46 29h1M48 29h1M50 29h1M54 29h1M63 29h1M35 30h1M38 30h1M42 30h1M49 30h2M55 30h2M63 30h1M18 31h1M28 31h1M31 31h1M35 31h1M44 31h1M58 31h1M30 32h1M39 32h2M45 32h1M47 32h3M54 32h1M58 32h1M64 32h1M14 33h1M26 33h1M30 33h1M33 33h1M35 33h1M37 33h1M43 33h1M49 33h1M40 34h1M44 34h1M46 34h1M48 34h1M50 34h1M55 34h1M57 34h1M68 34h1M20 35h1M38 35h1M40 35h1M42 35h1M45 35h1M47 35h2M61 35h1M7 36h1M34 36h1M44 36h1M51 36h1M54 36h2M78 36h1M9 37h1M21 37h1M35 37h1M38 37h1M43 37h1M49 37h3M25 38h3M34 38h1M41 38h1M68 38h1M25 39h1M37 39h1M41 39h2M50 39h1M57 39h1M27 40h1M34 40h1M40 40h1M43 40h1M46 40h1M54 40h1M61 40h1M69 40h1M28 41h1M36 41h1M40 41h4M46 41h1M49 41h1M51 41h1M57 41h2M14 42h1M17 42h1M21 42h1M26 42h1M33 42h1M42 42h2M46 42h1M48 42h1M50 42h4M55 42h2M58 42h1M64 42h1M18 43h1M31 43h1M35 43h1M42 43h1M45 43h1M47 43h1M67 43h1M74 43h1M32 44h1M35 44h2M40 44h2M48 44h2M58 44h3M62 44h1M35 45h3M40 45h1M45 45h2M51 45h1M55 45h3M65 45h1M20 46h1M37 46h1M40 46h6M47 46h1M51 46h1M54 46h2M59 46h1M67 46h1M28 47h1M35 47h1M44 47h1M48 47h1M50 47h1M56 47h2M68 47h2M76 47h1M29 48h1M40 48h1M47 48h1M51 48h1M58 48h1M61 48h2M22 49h1M34 49h1M36 49h2M43 49h1M45 49h1M48 49h1M55 49h3M64 49h1M67 49h1M9 50h1M22 50h1M30 50h1M42 50h2M46 50h1M49 50h1M51 50h1M58 50h1M61 50h1M67 50h1M72 50h1M81 50h1M22 51h2M29 51h1M31 51h2M35 51h1M37 51h1M39 51h2M44 51h2M47 51h2M51 51h1M55 51h1M62 51h1M65 51h1M73 51h1M21 52h2M31 52h1M34 52h1M39 52h3M43 52h3M47 52h1M50 52h2M55 52h1M57 52h2M65 52h1M34 53h1M40 53h1M45 53h1M47 53h3M51 53h1M53 53h1M57 53h5M67 53h1M72 53h1M33 54h1M38 54h2M42 54h2M51 54h2M61 54h2M12 55h1M18 55h1M28 55h1M34 55h1M37 55h3M42 55h2M46 55h1M48 55h1M55 55h1M57 55h2M60 55h1M69 55h1M73 55h1M20 56h1M22 56h2M33 56h1M38 56h2M45 56h1M48 56h2M53 56h1M55 56h1M60 56h2M63 56h2M15 57h2M35 57h3M39 57h1M43 57h1M46 57h1M48 57h4M57 57h1M60 57h1M63 57h1M66 57h1M73 57h1M77 57h2M27 58h2M38 58h1M40 58h1M44 58h1M48 58h2M51 58h2M66 58h3M26 59h1M42 59h5M51 59h1M53 59h1M57 59h1M63 59h1M78 59h1M16 60h1M19 60h1M25 60h1M39 60h1M41 60h1M43 60h3M48 60h1M53 60h1M56 60h1M64 60h1M17 61h1M26 61h2M31 61h2M35 61h2M38 61h1M40 61h2M45 61h1M48 61h1M54 61h1M56 61h1M59 61h1M64 61h1M68 61h1M23 62h1M29 62h2M33 62h1M36 62h1M38 62h2M43 62h3M47 62h1M50 62h1M52 62h1M55 62h1M57 62h4M75 62h1M12 63h1M24 63h1M26 63h1M34 63h1M39 63h1M41 63h2M44 63h1M46 63h1M48 63h2M52 63h1M54 63h1M56 63h1M60 63h2M64 63h1M70 63h1M80 63h1M83 63h1M11 64h1M22 64h1M24 64h1M26 64h1M32 64h1M35 64h1M38 64h1M40 64h1M45 64h2M52 64h1M55 64h1M58 64h2M62 64h1M68 64h1M9 65h1M19 65h1M30 65h1M33 65h1M38 65h1M40 65h2M45 65h1M47 65h8M56 65h2M60 65h1M62 65h2M69 65h2M72 65h1M75 65h1M24 66h1M30 66h1M35 66h1M38 66h1M44 66h18M63 66h1M76 66h2M35 67h1M39 67h1M41 67h1M43 67h22M70 67h1M82 67h1M20 68h1M25 68h1M30 68h3M36 68h1M38 68h1M41 68h24M67 68h1M69 68h1M23 69h1M27 69h1M32 69h1M38 69h2M41 69h25M67 69h1M69 69h1M75 69h1M80 69h1M21 70h1M25 70h3M33 70h1M38 70h1M40 70h5M46 70h12M59 70h9M69 70h1M74 70h2M20 71h1M29 71h1M31 71h1M38 71h25M64 71h3M72 71h2M77 71h1M83 71h1M28 72h1M31 72h1M38 72h29M68 72h1M72 72h1M14 73h1M23 73h1M35 73h1M37 73h32M71 73h1M24 74h1M30 74h1M37 74h11M49 74h4M54 74h14M69 74h2M83 74h1M20 75h1M30 75h1M32 75h2M37 75h33M76 75h1M31 76h1M33 76h1M35 76h1M37 76h31M70 76h1M75 76h1M81 76h1M33 77h1M35 77h1M37 77h32M71 77h1M82 77h1M21 78h1M29 78h1M37 78h9M47 78h22M70 78h1M77 78h1M22 79h1M25 79h1M32 79h1M37 79h32M71 79h1M76 79h1M85 79h1M20 80h1M24 80h1M30 80h1M33 80h1M35 80h37M23 81h1M31 81h1M34 81h1M36 81h9M46 81h24M71 81h1M74 81h2M78 81h1M19 82h1M25 82h3M32 82h3M36 82h8M45 82h22M68 82h2M26 83h1M28 83h1M34 83h1M36 83h29M66 83h5M78 83h2M36 84h35M74 84h2M85 84h1M24 85h1M30 85h1M34 85h1M36 85h34M72 85h1M18 86h1M20 86h1M24 86h2M27 86h2M30 86h2M34 86h1M37 86h9M47 86h23M72 86h1M74 86h2M78 86h3M82 86h1" stroke="#111" stroke-width="1" fill="none"/>
<rect x="187.5" y="162.5" width="87" height="87" fill="none" stroke="#444" stroke-width="1"/>
<path d="M221.5 162v88M187 206.5h88" stroke="#444" stroke-width="1"/>
<text x="184.7" y="252.4" text-anchor="end" class="tk">10<tspan dy="-1.8" class="tks">0</tspan></text>
<text x="187.5" y="257.5" text-anchor="middle" class="tk">10<tspan dy="-1.8" class="tks">0</tspan></text>
<text x="184.7" y="230.7" text-anchor="end" class="tk">10<tspan dy="-1.8" class="tks">1</tspan></text>
<text x="209.2" y="257.5" text-anchor="middle" class="tk">10<tspan dy="-1.8" class="tks">1</tspan></text>
<text x="184.7" y="208.9" text-anchor="end" class="tk">10<tspan dy="-1.8" class="tks">2</tspan></text>
<text x="231.0" y="257.5" text-anchor="middle" class="tk">10<tspan dy="-1.8" class="tks">2</tspan></text>
<text x="184.7" y="187.2" text-anchor="end" class="tk">10<tspan dy="-1.8" class="tks">3</tspan></text>
<text x="252.8" y="257.5" text-anchor="middle" class="tk">10<tspan dy="-1.8" class="tks">3</tspan></text>
<text x="184.7" y="165.4" text-anchor="end" class="tk">10<tspan dy="-1.8" class="tks">4</tspan></text>
<text x="274.5" y="257.5" text-anchor="middle" class="tk">10<tspan dy="-1.8" class="tks">4</tspan></text>
<path d="M185.3 249.5h2.2M187.5 249.5v2.2M186.2 243.0h1.3M194.0 249.5v1.3M186.2 239.1h1.3M197.9 249.5v1.3M186.2 236.4h1.3M200.6 249.5v1.3M186.2 234.3h1.3M202.7 249.5v1.3M186.2 232.6h1.3M204.4 249.5v1.3M186.2 231.1h1.3M205.9 249.5v1.3M186.2 229.9h1.3M207.1 249.5v1.3M186.2 228.7h1.3M208.3 249.5v1.3M185.3 227.8h2.2M209.2 249.5v2.2M186.2 221.2h1.3M215.8 249.5v1.3M186.2 217.4h1.3M219.6 249.5v1.3M186.2 214.7h1.3M222.3 249.5v1.3M186.2 212.5h1.3M224.5 249.5v1.3M186.2 210.8h1.3M226.2 249.5v1.3M186.2 209.4h1.3M227.6 249.5v1.3M186.2 208.1h1.3M228.9 249.5v1.3M186.2 207.0h1.3M230.0 249.5v1.3M185.3 206.0h2.2M231.0 249.5v2.2M186.2 199.5h1.3M237.5 249.5v1.3M186.2 195.6h1.3M241.4 249.5v1.3M186.2 192.9h1.3M244.1 249.5v1.3M186.2 190.8h1.3M246.2 249.5v1.3M186.2 189.1h1.3M247.9 249.5v1.3M186.2 187.6h1.3M249.4 249.5v1.3M186.2 186.4h1.3M250.6 249.5v1.3M186.2 185.2h1.3M251.8 249.5v1.3M185.3 184.2h2.2M252.8 249.5v2.2M186.2 177.7h1.3M259.3 249.5v1.3M186.2 173.9h1.3M263.1 249.5v1.3M186.2 171.2h1.3M265.8 249.5v1.3M186.2 169.0h1.3M268.0 249.5v1.3M186.2 167.3h1.3M269.7 249.5v1.3M186.2 165.9h1.3M271.1 249.5v1.3M186.2 164.6h1.3M272.4 249.5v1.3M186.2 163.5h1.3M273.5 249.5v1.3M185.3 162.5h2.2M274.5 249.5v2.2" stroke="#555" stroke-width="0.8" fill="none"/>
<text x="190" y="173" class="q">0.3</text>
<text x="272.5" y="173" class="q" text-anchor="end">0.9</text>
<text x="190" y="247.7" class="q">0.3</text>
<text x="272.5" y="247.7" class="q" text-anchor="end">98.5</text>
<path transform="translate(306,162.5)" d="M9 1h1M11 1h1M18 1h3M26 1h1M28 1h1M31 1h1M34 1h2M39 1h2M45 1h2M51 1h1M53 1h1M59 1h1M33 2h1M36 2h1M43 2h1M16 3h1M23 4h1M26 4h1M34 4h1M39 4h1M15 5h1M19 5h1M30 5h1M41 5h1M47 5h1M8 6h1M13 6h1M24 6h1M46 6h1M30 7h1M32 7h2M48 7h1M19 8h1M23 8h1M25 8h1M27 8h1M31 8h1M38 8h1M23 9h1M26 9h3M35 9h2M40 9h1M59 9h1M16 10h1M18 10h1M23 10h1M28 10h1M31 10h1M33 10h1M41 10h1M45 10h1M47 10h1M3 11h2M6 12h1M27 12h1M37 12h1M40 12h1M50 12h1M54 12h1M17 13h1M19 13h1M28 13h1M31 13h1M41 13h1M53 13h1M12 14h1M17 14h1M23 14h3M27 14h3M33 14h3M44 14h2M60 14h1M11 15h1M22 15h1M24 15h1M45 15h1M15 16h1M21 16h2M26 16h4M31 16h1M35 16h1M37 16h4M50 16h1M5 17h1M7 17h1M14 17h1M16 17h1M19 17h1M21 17h2M27 17h1M31 17h1M35 17h1M38 17h1M5 18h1M9 18h1M11 18h2M28 18h2M32 18h3M51 18h1M53 18h1M64 18h1M15 19h1M17 19h4M23 19h1M27 19h1M31 19h1M33 19h1M39 19h1M43 19h1M58 19h2M12 20h1M14 20h2M20 20h2M26 20h2M36 20h1M38 20h4M11 21h1M15 21h1M20 21h1M22 21h7M36 21h3M40 21h1M43 21h1M54 21h1M4 22h1M14 22h1M16 22h2M19 22h1M22 22h1M24 22h1M27 22h1M31 22h1M33 22h2M41 22h1M45 22h1M47 22h2M16 23h1M21 23h1M28 23h1M31 23h1M33 23h3M38 23h1M41 23h2M50 23h1M54 23h2M64 23h1M4 24h1M6 24h2M10 24h1M12 24h1M14 24h2M17 24h4M22 24h1M26 24h5M33 24h1M35 24h2M39 24h3M45 24h1M55 24h1M11 25h1M13 25h1M17 25h1M19 25h1M23 25h2M26 25h1M29 25h2M33 25h1M38 25h3M42 25h1M45 25h1M48 25h1M56 25h1M11 26h1M14 26h2M19 26h2M22 26h2M30 26h3M35 26h3M40 26h1M48 26h1M52 26h1M54 26h2M64 26h1M13 27h1M15 27h2M18 27h2M25 27h2M28 27h7M37 27h4M43 27h1M47 27h1M8 28h1M12 28h1M17 28h1M19 28h2M22 28h1M24 28h1M27 28h2M35 28h2M38 28h2M41 28h1M44 28h1M46 28h3M51 28h1M54 28h2M16 29h2M20 29h1M25 29h2M28 29h1M30 29h1M32 29h3M36 29h1M39 29h1M41 29h1M45 29h1M51 29h1M55 29h1M58 29h1M69 29h1M72 29h1M3 30h1M8 30h1M11 30h1M13 30h1M22 30h1M25 30h1M28 30h2M31 30h1M37 30h2M42 30h2M47 30h2M52 30h1M7 31h1M12 31h1M20 31h1M22 31h4M28 31h3M32 31h2M37 31h5M44 31h5M50 31h1M7 32h1M9 32h1M11 32h1M16 32h1M18 32h1M20 32h1M22 32h2M25 32h1M30 32h3M35 32h1M41 32h1M47 32h1M49 32h1M52 32h1M57 32h1M60 32h1M63 32h1M6 33h1M9 33h1M12 33h1M15 33h1M20 33h2M26 33h2M30 33h1M33 33h1M36 33h1M38 33h1M40 33h1M42 33h2M46 33h2M56 33h1M59 33h1M61 33h1M17 34h1M21 34h1M23 34h1M25 34h3M31 34h1M33 34h2M37 34h1M42 34h1M45 34h1M50 34h1M61 34h1M4 35h1M15 35h2M19 35h1M21 35h1M24 35h1M26 35h2M29 35h1M31 35h1M33 35h4M38 35h1M44 35h1M52 35h1M55 35h1M60 35h1M7 36h1M11 36h1M17 36h1M19 36h1M21 36h1M23 36h1M25 36h1M29 36h2M32 36h3M36 36h6M43 36h4M48 36h2M19 37h1M23 37h2M29 37h2M32 37h1M34 37h2M37 37h1M39 37h4M44 37h1M47 37h1M52 37h1M10 38h1M13 38h1M15 38h1M17 38h2M20 38h1M22 38h1M26 38h1M32 38h2M41 38h2M45 38h1M49 38h1M52 38h2M55 38h1M9 39h1M14 39h2M17 39h2M22 39h3M26 39h1M29 39h2M33 39h1M36 39h8M46 39h2M51 39h1M13 40h1M19 40h3M24 40h1M27 40h1M29 40h1M32 40h2M36 40h3M40 40h3M45 40h1M51 40h1M55 40h1M58 40h1M11 41h1M16 41h7M24 41h1M26 41h1M28 41h1M33 41h2M36 41h1M38 41h3M46 41h2M51 41h2M57 41h1M61 41h1M63 41h1M5 42h1M13 42h1M17 42h2M20 42h1M22 42h1M24 42h2M29 42h3M34 42h3M39 42h4M44 42h1M48 42h1M54 42h1M3 43h1M9 43h1M13 43h1M15 43h2M18 43h1M20 43h2M23 43h3M27 43h1M29 43h3M34 43h3M44 43h1M46 43h3M56 43h1M58 43h1M6 44h1M8 44h1M10 44h1M16 44h1M18 44h1M20 44h4M26 44h1M29 44h2M32 44h2M35 44h3M40 44h1M42 44h1M45 44h2M48 44h1M50 44h1M53 44h1M3 45h1M5 45h1M10 45h1M14 45h1M16 45h1M18 45h1M23 45h5M29 45h3M33 45h1M36 45h1M39 45h2M44 45h3M50 45h1M54 45h2M65 45h1M5 46h1M7 46h1M10 46h1M20 46h1M22 46h3M28 46h3M33 46h2M36 46h7M44 46h5M50 46h1M57 46h1M12 47h2M19 47h1M26 47h1M28 47h3M34 47h5M40 47h1M43 47h1M46 47h3M51 47h1M59 47h1M6 48h1M11 48h2M14 48h1M18 48h3M22 48h2M27 48h5M33 48h2M36 48h1M39 48h2M43 48h4M50 48h1M52 48h2M56 48h1M58 48h1M17 49h1M23 49h1M26 49h1M28 49h2M31 49h2M34 49h2M37 49h2M41 49h1M43 49h1M46 49h4M53 49h2M59 49h1M8 50h1M16 50h1M20 50h3M24 50h3M32 50h1M34 50h1M36 50h1M41 50h1M44 50h5M50 50h2M7 51h1M11 51h1M25 51h1M29 51h2M33 51h3M37 51h2M40 51h1M42 51h2M45 51h1M49 51h1M52 51h2M57 51h1M61 51h1M4 52h1M9 52h1M11 52h1M13 52h2M18 52h1M20 52h1M26 52h1M28 52h2M33 52h3M37 52h1M39 52h1M44 52h1M46 52h1M48 52h1M50 52h2M13 53h1M18 53h2M25 53h6M34 53h2M37 53h1M39 53h1M42 53h3M46 53h1M48 53h1M50 53h2M54 53h1M4 54h1M17 54h1M21 54h5M27 54h1M29 54h5M37 54h1M39 54h2M42 54h2M46 54h3M50 54h3M54 54h2M63 54h1M16 55h3M20 55h2M25 55h2M29 55h1M31 55h2M34 55h5M41 55h1M43 55h3M47 55h1M49 55h3M56 55h2M59 55h2M70 55h1M7 56h1M11 56h1M14 56h1M20 56h1M25 56h1M28 56h4M34 56h2M38 56h4M43 56h1M45 56h1M49 56h3M54 56h2M59 56h2M62 56h1M68 56h1M19 57h1M22 57h2M25 57h1M28 57h1M30 57h1M33 57h7M41 57h2M45 57h1M47 57h1M52 57h3M59 57h2M10 58h1M21 58h1M23 58h1M25 58h1M27 58h1M30 58h1M32 58h3M36 58h1M39 58h3M43 58h1M49 58h1M51 58h3M55 58h1M57 58h1M59 58h1M62 58h1M71 58h1M15 59h1M21 59h1M23 59h3M29 59h2M33 59h2M37 59h1M39 59h3M44 59h1M47 59h3M51 59h3M57 59h1M69 59h2M13 60h1M27 60h2M31 60h2M36 60h1M38 60h3M43 60h1M45 60h4M53 60h1M56 60h3M65 60h1M70 60h1M16 61h1M23 61h1M26 61h1M28 61h2M32 61h1M34 61h1M36 61h1M41 61h3M46 61h1M56 61h1M60 61h1M65 61h1M72 61h1M21 62h1M27 62h2M30 62h2M33 62h1M35 62h3M39 62h8M52 62h1M54 62h2M57 62h1M60 62h1M16 63h1M19 63h2M25 63h2M28 63h1M30 63h1M34 63h2M38 63h3M43 63h2M47 63h2M50 63h1M52 63h1M54 63h1M57 63h1M62 63h1M66 63h1M70 63h1M26 64h1M28 64h1M30 64h1M34 64h2M39 64h2M42 64h9M52 64h2M55 64h3M59 64h2M63 64h1M77 64h1M13 65h1M16 65h1M22 65h1M26 65h2M31 65h2M36 65h19M57 65h2M61 65h1M68 65h1M74 65h1M24 66h1M28 66h4M33 66h5M39 66h1M41 66h17M60 66h2M63 66h1M67 66h1M69 66h1M72 66h1M21 67h2M25 67h3M31 67h2M35 67h3M39 67h21M65 67h3M70 67h1M22 68h1M24 68h2M31 68h3M35 68h2M38 68h8M48 68h5M54 68h4M64 68h1M69 68h1M12 69h1M24 69h1M26 69h1M30 69h1M32 69h1M34 69h2M37 69h23M61 69h1M63 69h2M66 69h1M69 69h1M71 69h1M82 69h1M8 70h1M27 70h1M36 70h10M47 70h13M63 70h1M66 70h2M77 70h1M17 71h1M20 71h1M26 71h2M29 71h2M32 71h1M34 71h1M36 71h2M39 71h3M43 71h17M63 71h1M65 71h1M68 71h1M85 71h1M16 72h1M19 72h1M23 72h1M25 72h1M27 72h1M29 72h2M32 72h1M34 72h9M44 72h18M65 72h1M71 72h1M14 73h1M28 73h1M31 73h2M34 73h19M54 73h3M58 73h3M62 73h1M64 73h1M66 73h1M73 73h1M78 73h1M21 74h1M25 74h2M28 74h4M33 74h30M64 74h1M31 75h1M33 75h16M50 75h13M64 75h2M68 75h2M22 76h1M32 76h21M54 76h8M63 76h1M67 76h1M72 76h1M25 77h1M29 77h1M31 77h1M33 77h2M36 77h25M62 77h1M64 77h2M76 77h1M22 78h1M26 78h1M31 78h1M33 78h30M69 78h1M71 78h1M19 79h1M22 79h1M26 79h1M30 79h1M32 79h20M53 79h6M60 79h1M62 79h1M18 80h1M22 80h1M24 80h1M31 80h1M33 80h15M49 80h13M73 80h1M84 80h1M18 81h1M21 81h1M28 81h1M32 81h14M47 81h13M61 81h1M70 81h1M28 82h1M32 82h9M42 82h23M17 83h1M29 83h1M32 83h6M39 83h7M47 83h12M60 83h3M12 84h1M22 84h1M25 84h2M29 84h1M32 84h7M40 84h4M46 84h7M54 84h9M17 85h1M24 85h1M32 85h13M46 85h16M67 85h1M11 86h2M15 86h1M22 86h1M25 86h1M31 86h35M67 86h1M69 86h1M71 86h1M73 86h2M76 86h2" stroke="#111" stroke-width="1" fill="none"/>
<rect x="306.5" y="162.5" width="87" height="87" fill="none" stroke="#444" stroke-width="1"/>
<path d="M342.5 162v88M306 206.5h88" stroke="#444" stroke-width="1"/>
<text x="303.7" y="252.4" text-anchor="end" class="tk">10<tspan dy="-1.8" class="tks">0</tspan></text>
<text x="306.5" y="257.5" text-anchor="middle" class="tk">10<tspan dy="-1.8" class="tks">0</tspan></text>
<text x="303.7" y="230.7" text-anchor="end" class="tk">10<tspan dy="-1.8" class="tks">1</tspan></text>
<text x="328.2" y="257.5" text-anchor="middle" class="tk">10<tspan dy="-1.8" class="tks">1</tspan></text>
<text x="303.7" y="208.9" text-anchor="end" class="tk">10<tspan dy="-1.8" class="tks">2</tspan></text>
<text x="350.0" y="257.5" text-anchor="middle" class="tk">10<tspan dy="-1.8" class="tks">2</tspan></text>
<text x="303.7" y="187.2" text-anchor="end" class="tk">10<tspan dy="-1.8" class="tks">3</tspan></text>
<text x="371.8" y="257.5" text-anchor="middle" class="tk">10<tspan dy="-1.8" class="tks">3</tspan></text>
<text x="303.7" y="165.4" text-anchor="end" class="tk">10<tspan dy="-1.8" class="tks">4</tspan></text>
<text x="393.5" y="257.5" text-anchor="middle" class="tk">10<tspan dy="-1.8" class="tks">4</tspan></text>
<path d="M304.3 249.5h2.2M306.5 249.5v2.2M305.2 243.0h1.3M313.0 249.5v1.3M305.2 239.1h1.3M316.9 249.5v1.3M305.2 236.4h1.3M319.6 249.5v1.3M305.2 234.3h1.3M321.7 249.5v1.3M305.2 232.6h1.3M323.4 249.5v1.3M305.2 231.1h1.3M324.9 249.5v1.3M305.2 229.9h1.3M326.1 249.5v1.3M305.2 228.7h1.3M327.3 249.5v1.3M304.3 227.8h2.2M328.2 249.5v2.2M305.2 221.2h1.3M334.8 249.5v1.3M305.2 217.4h1.3M338.6 249.5v1.3M305.2 214.7h1.3M341.3 249.5v1.3M305.2 212.5h1.3M343.5 249.5v1.3M305.2 210.8h1.3M345.2 249.5v1.3M305.2 209.4h1.3M346.6 249.5v1.3M305.2 208.1h1.3M347.9 249.5v1.3M305.2 207.0h1.3M349.0 249.5v1.3M304.3 206.0h2.2M350.0 249.5v2.2M305.2 199.5h1.3M356.5 249.5v1.3M305.2 195.6h1.3M360.4 249.5v1.3M305.2 192.9h1.3M363.1 249.5v1.3M305.2 190.8h1.3M365.2 249.5v1.3M305.2 189.1h1.3M366.9 249.5v1.3M305.2 187.6h1.3M368.4 249.5v1.3M305.2 186.4h1.3M369.6 249.5v1.3M305.2 185.2h1.3M370.8 249.5v1.3M304.3 184.2h2.2M371.8 249.5v2.2M305.2 177.7h1.3M378.3 249.5v1.3M305.2 173.9h1.3M382.1 249.5v1.3M305.2 171.2h1.3M384.8 249.5v1.3M305.2 169.0h1.3M387.0 249.5v1.3M305.2 167.3h1.3M388.7 249.5v1.3M305.2 165.9h1.3M390.1 249.5v1.3M305.2 164.6h1.3M391.4 249.5v1.3M305.2 163.5h1.3M392.5 249.5v1.3M304.3 162.5h2.2M393.5 249.5v2.2" stroke="#555" stroke-width="0.8" fill="none"/>
<text x="309" y="173" class="q">4.6</text>
<text x="391.5" y="173" class="q" text-anchor="end">3.7</text>
<text x="309" y="247.7" class="q">11.5</text>
<text x="391.5" y="247.7" class="q" text-anchor="end">80.2</text>
<path transform="translate(427,162.5)" d="M38 1h1M17 3h1M52 4h1M25 7h1M37 7h1M13 8h1M39 8h1M12 11h2M15 11h1M21 11h1M60 11h1M30 12h1M41 12h1M48 12h1M68 12h1M1 13h1M3 13h1M8 13h1M10 13h2M16 13h1M21 13h1M23 13h1M48 13h2M9 14h1M25 14h1M35 14h1M50 14h1M60 14h1M6 15h1M9 15h1M11 15h1M17 15h1M25 15h1M40 15h1M62 15h1M65 15h1M2 16h1M10 16h1M14 16h1M23 16h2M38 16h1M47 16h1M52 16h1M3 17h1M8 17h1M15 17h1M19 17h1M23 17h1M26 17h2M34 17h1M47 17h1M10 18h1M17 18h1M23 18h1M25 18h1M30 18h1M35 18h1M47 18h1M50 18h1M55 18h1M3 19h1M9 19h2M16 19h2M25 19h2M29 19h1M33 19h1M38 19h1M40 19h1M42 19h2M47 19h1M53 19h1M59 19h1M7 20h1M11 20h1M15 20h1M19 20h3M24 20h1M26 20h1M30 20h1M32 20h1M40 20h1M48 20h1M54 20h1M4 21h1M7 21h1M13 21h1M16 21h1M18 21h1M23 21h2M27 21h1M29 21h1M34 21h2M40 21h1M50 21h1M52 21h1M60 21h1M1 22h1M8 22h1M10 22h3M17 22h1M21 22h1M23 22h1M25 22h3M31 22h1M38 22h1M43 22h1M45 22h1M5 23h1M9 23h1M20 23h2M23 23h4M30 23h1M35 23h1M46 23h1M51 23h1M55 23h1M3 24h1M6 24h1M11 24h2M14 24h3M18 24h5M26 24h1M28 24h2M33 24h2M37 24h1M39 24h1M41 24h1M45 24h2M49 24h1M8 25h6M15 25h2M18 25h1M23 25h2M27 25h1M32 25h1M34 25h4M41 25h3M45 25h2M51 25h1M1 26h1M7 26h3M13 26h1M16 26h2M21 26h5M28 26h2M32 26h4M37 26h1M44 26h1M49 26h1M51 26h1M60 26h1M1 27h2M4 27h1M8 27h17M27 27h2M30 27h1M33 27h2M40 27h2M43 27h2M57 27h1M64 27h1M1 28h1M7 28h1M9 28h9M20 28h1M23 28h3M27 28h1M29 28h2M32 28h1M34 28h2M38 28h2M42 28h2M45 28h1M48 28h2M54 28h1M59 28h1M1 29h1M5 29h1M7 29h1M9 29h5M15 29h1M18 29h14M34 29h5M40 29h4M47 29h1M58 29h1M62 29h3M1 30h1M3 30h5M9 30h2M12 30h3M17 30h1M19 30h5M25 30h5M31 30h2M34 30h3M40 30h1M43 30h1M52 30h1M54 30h1M59 30h1M1 31h1M4 31h1M7 31h1M9 31h3M13 31h7M22 31h5M28 31h1M32 31h2M37 31h1M40 31h1M43 31h1M46 31h3M52 31h1M58 31h1M64 31h1M1 32h4M6 32h1M8 32h6M15 32h13M30 32h3M34 32h3M40 32h1M45 32h1M47 32h1M50 32h2M53 32h1M61 32h1M65 32h1M1 33h1M3 33h1M8 33h1M10 33h7M18 33h7M26 33h3M31 33h1M36 33h2M39 33h2M42 33h1M45 33h1M47 33h3M56 33h1M65 33h1M69 33h1M1 34h1M3 34h1M5 34h1M7 34h2M11 34h3M16 34h4M21 34h2M24 34h1M26 34h3M30 34h1M33 34h1M36 34h1M38 34h1M40 34h2M45 34h1M48 34h1M51 34h1M55 34h1M82 34h1M3 35h4M8 35h7M16 35h4M21 35h5M28 35h3M32 35h3M38 35h3M42 35h3M47 35h1M49 35h4M55 35h1M61 35h1M1 36h2M5 36h1M8 36h5M16 36h8M26 36h2M29 36h3M33 36h1M35 36h6M42 36h1M47 36h2M55 36h1M66 36h1M1 37h1M3 37h2M7 37h21M29 37h2M32 37h1M35 37h3M39 37h1M44 37h1M47 37h1M49 37h2M52 37h3M59 37h1M1 38h3M5 38h1M7 38h2M10 38h24M36 38h2M39 38h1M41 38h2M45 38h2M49 38h1M52 38h1M60 38h1M64 38h1M66 38h1M1 39h2M5 39h2M8 39h1M10 39h4M16 39h5M22 39h1M24 39h1M26 39h1M29 39h3M33 39h1M36 39h2M39 39h1M41 39h2M44 39h2M51 39h1M54 39h2M59 39h1M71 39h1M75 39h1M1 40h2M8 40h2M11 40h4M16 40h9M28 40h4M34 40h2M37 40h1M42 40h2M45 40h1M47 40h1M51 40h1M58 40h1M60 40h1M65 40h1M1 41h2M4 41h1M6 41h2M10 41h10M21 41h6M28 41h3M32 41h3M40 41h1M42 41h2M45 41h1M49 41h2M52 41h2M57 41h1M62 41h1M69 41h1M1 42h1M4 42h2M7 42h1M9 42h5M15 42h8M24 42h8M35 42h1M39 42h1M41 42h1M43 42h1M46 42h1M51 42h1M58 42h1M1 43h2M5 43h1M7 43h6M14 43h15M33 43h1M35 43h2M38 43h4M45 43h1M49 43h2M53 43h1M55 43h1M64 43h1M67 43h1M1 44h2M6 44h1M9 44h1M11 44h6M18 44h5M24 44h2M27 44h1M29 44h1M33 44h3M40 44h1M43 44h2M51 44h1M55 44h3M62 44h1M1 45h2M6 45h1M9 45h1M11 45h2M14 45h1M16 45h4M21 45h1M23 45h1M26 45h5M32 45h2M35 45h1M37 45h4M42 45h4M47 45h1M53 45h1M1 46h4M6 46h2M9 46h2M12 46h4M17 46h8M29 46h4M34 46h1M37 46h3M41 46h1M45 46h2M50 46h1M6 47h1M9 47h4M15 47h15M31 47h1M34 47h3M39 47h3M43 47h5M50 47h2M55 47h1M65 47h1M1 48h1M6 48h1M9 48h1M11 48h1M13 48h2M16 48h1M18 48h5M24 48h2M27 48h2M30 48h1M32 48h4M37 48h1M39 48h1M45 48h1M47 48h3M58 48h1M61 48h2M76 48h1M7 49h1M9 49h2M12 49h2M16 49h4M21 49h3M26 49h3M30 49h2M33 49h2M39 49h5M47 49h4M54 49h1M56 49h2M65 49h1M4 50h5M12 50h1M14 50h1M20 50h1M22 50h2M25 50h2M28 50h1M30 50h4M36 50h3M43 50h1M46 50h1M48 50h1M53 50h1M63 50h1M4 51h2M9 51h1M11 51h2M14 51h2M17 51h1M19 51h1M22 51h1M24 51h3M28 51h1M31 51h4M40 51h1M45 51h1M47 51h2M50 51h1M54 51h1M59 51h1M71 51h1M1 52h1M5 52h1M7 52h7M15 52h4M20 52h1M22 52h1M24 52h1M27 52h2M30 52h6M43 52h1M60 52h1M8 53h2M11 53h2M14 53h3M25 53h1M27 53h4M32 53h2M36 53h6M43 53h1M45 53h1M50 53h1M68 53h1M3 54h1M7 54h4M12 54h1M19 54h1M21 54h4M27 54h5M33 54h3M37 54h4M43 54h1M46 54h1M48 54h1M58 54h1M2 55h2M8 55h1M12 55h2M15 55h1M17 55h1M22 55h2M25 55h1M30 55h2M33 55h6M41 55h1M46 55h3M1 56h1M6 56h2M9 56h3M14 56h1M17 56h2M21 56h6M28 56h1M30 56h1M32 56h2M35 56h1M38 56h2M42 56h1M46 56h1M53 56h1M55 56h1M66 56h1M2 57h1M9 57h3M13 57h1M16 57h1M18 57h1M20 57h4M26 57h6M34 57h2M37 57h3M43 57h1M46 57h2M55 57h3M59 57h1M61 57h1M1 58h1M3 58h1M7 58h1M13 58h2M23 58h3M27 58h10M39 58h2M43 58h1M47 58h1M49 58h2M57 58h1M60 58h1M65 58h3M4 59h1M6 59h1M8 59h1M12 59h2M15 59h1M17 59h1M20 59h20M42 59h1M45 59h1M47 59h3M52 59h1M54 59h1M57 59h1M64 59h1M11 60h2M14 60h27M42 60h1M44 60h1M48 60h1M52 60h2M56 60h1M1 61h1M4 61h1M7 61h2M13 61h1M16 61h4M21 61h22M44 61h4M51 61h3M57 61h1M7 62h1M11 62h1M14 62h8M23 62h1M26 62h6M33 62h2M36 62h9M48 62h1M52 62h1M5 63h3M10 63h2M13 63h1M15 63h7M23 63h17M41 63h6M49 63h1M52 63h4M57 63h1M66 63h1M1 64h1M7 64h1M10 64h1M12 64h12M25 64h18M44 64h6M53 64h1M57 64h1M60 64h1M63 64h1M4 65h1M7 65h1M10 65h6M17 65h31M2 66h1M9 66h16M26 66h6M33 66h17M53 66h1M56 66h1M60 66h1M69 66h1M1 67h1M4 67h1M6 67h1M8 67h43M54 67h1M6 68h1M8 68h5M14 68h38M54 68h1M66 68h1M70 68h1M2 69h1M7 69h6M15 69h32M48 69h1M50 69h1M52 69h1M54 69h1M56 69h1M61 69h1M1 70h1M7 70h2M10 70h18M29 70h17M47 70h6M54 70h2M62 70h2M5 71h1M7 71h14M22 71h13M36 71h14M51 71h2M56 71h2M63 71h1M78 71h1M5 72h41M47 72h6M57 72h3M61 72h1M64 72h1M4 73h1M6 73h37M44 73h7M52 73h2M55 73h1M5 74h2M8 74h39M48 74h6M55 74h1M58 74h1M63 74h1M70 74h1M5 75h33M39 75h16M63 75h1M72 75h1M1 76h2M5 76h2M8 76h1M10 76h1M12 76h32M45 76h10M59 76h1M65 76h1M71 76h1M2 77h1M5 77h26M32 77h2M35 77h22M60 77h1M64 77h1M5 78h2M8 78h38M47 78h9M2 79h1M5 79h52M58 79h1M5 80h51M57 80h1M61 80h1M64 80h2M71 80h1M79 80h1M3 81h48M52 81h5M58 81h1M61 81h1M4 82h43M48 82h11M60 82h1M73 82h1M1 83h1M4 83h16M21 83h4M26 83h11M38 83h9M48 83h11M63 83h1M74 83h1M4 84h57M4 85h6M11 85h38M50 85h9M62 85h1M3 86h56M61 86h2M64 86h2M68 86h1" stroke="#111" stroke-width="1" fill="none"/>
<rect x="427.5" y="162.5" width="86" height="87" fill="none" stroke="#444" stroke-width="1"/>
<path d="M459.5 162v88M427 206.5h87" stroke="#444" stroke-width="1"/>
<text x="424.7" y="252.4" text-anchor="end" class="tk">10<tspan dy="-1.8" class="tks">0</tspan></text>
<text x="427.5" y="257.5" text-anchor="middle" class="tk">10<tspan dy="-1.8" class="tks">0</tspan></text>
<text x="424.7" y="230.7" text-anchor="end" class="tk">10<tspan dy="-1.8" class="tks">1</tspan></text>
<text x="449.0" y="257.5" text-anchor="middle" class="tk">10<tspan dy="-1.8" class="tks">1</tspan></text>
<text x="424.7" y="208.9" text-anchor="end" class="tk">10<tspan dy="-1.8" class="tks">2</tspan></text>
<text x="470.5" y="257.5" text-anchor="middle" class="tk">10<tspan dy="-1.8" class="tks">2</tspan></text>
<text x="424.7" y="187.2" text-anchor="end" class="tk">10<tspan dy="-1.8" class="tks">3</tspan></text>
<text x="492.0" y="257.5" text-anchor="middle" class="tk">10<tspan dy="-1.8" class="tks">3</tspan></text>
<text x="424.7" y="165.4" text-anchor="end" class="tk">10<tspan dy="-1.8" class="tks">4</tspan></text>
<text x="513.5" y="257.5" text-anchor="middle" class="tk">10<tspan dy="-1.8" class="tks">4</tspan></text>
<path d="M425.3 249.5h2.2M427.5 249.5v2.2M426.2 243.0h1.3M434.0 249.5v1.3M426.2 239.1h1.3M437.8 249.5v1.3M426.2 236.4h1.3M440.4 249.5v1.3M426.2 234.3h1.3M442.5 249.5v1.3M426.2 232.6h1.3M444.2 249.5v1.3M426.2 231.1h1.3M445.7 249.5v1.3M426.2 229.9h1.3M446.9 249.5v1.3M426.2 228.7h1.3M448.0 249.5v1.3M425.3 227.8h2.2M449.0 249.5v2.2M426.2 221.2h1.3M455.5 249.5v1.3M426.2 217.4h1.3M459.3 249.5v1.3M426.2 214.7h1.3M461.9 249.5v1.3M426.2 212.5h1.3M464.0 249.5v1.3M426.2 210.8h1.3M465.7 249.5v1.3M426.2 209.4h1.3M467.2 249.5v1.3M426.2 208.1h1.3M468.4 249.5v1.3M426.2 207.0h1.3M469.5 249.5v1.3M425.3 206.0h2.2M470.5 249.5v2.2M426.2 199.5h1.3M477.0 249.5v1.3M426.2 195.6h1.3M480.8 249.5v1.3M426.2 192.9h1.3M483.4 249.5v1.3M426.2 190.8h1.3M485.5 249.5v1.3M426.2 189.1h1.3M487.2 249.5v1.3M426.2 187.6h1.3M488.7 249.5v1.3M426.2 186.4h1.3M489.9 249.5v1.3M426.2 185.2h1.3M491.0 249.5v1.3M425.3 184.2h2.2M492.0 249.5v2.2M426.2 177.7h1.3M498.5 249.5v1.3M426.2 173.9h1.3M502.3 249.5v1.3M426.2 171.2h1.3M504.9 249.5v1.3M426.2 169.0h1.3M507.0 249.5v1.3M426.2 167.3h1.3M508.7 249.5v1.3M426.2 165.9h1.3M510.2 249.5v1.3M426.2 164.6h1.3M511.4 249.5v1.3M426.2 163.5h1.3M512.5 249.5v1.3M425.3 162.5h2.2M513.5 249.5v2.2" stroke="#555" stroke-width="0.8" fill="none"/>
<text x="430" y="173" class="q">5.5</text>
<text x="511.5" y="173" class="q" text-anchor="end">1.5</text>
<text x="511.5" y="247.7" class="q" text-anchor="end">52.9</text>
<text x="430" y="215.5" class="q">40</text>
<path transform="translate(187,294.5)" d="M56 1h1M55 2h1M59 4h1M53 9h1M62 9h1M49 10h1M60 10h1M68 10h1M47 11h1M62 11h1M65 11h1M66 12h1M37 13h1M54 13h1M59 13h1M51 14h1M56 14h1M46 15h1M50 15h1M55 15h1M66 15h1M44 16h1M61 16h2M35 17h1M55 17h1M67 17h1M34 18h1M54 18h1M57 18h1M61 18h1M65 18h1M67 18h1M25 19h1M36 19h1M51 19h1M54 19h3M58 19h1M60 19h2M63 19h1M68 19h1M52 20h3M62 20h1M65 20h2M45 21h1M49 21h1M54 21h1M57 21h1M62 21h2M65 21h1M67 21h2M74 21h1M44 22h2M52 22h1M56 22h3M62 22h1M75 22h1M49 23h2M52 23h1M56 23h1M58 23h1M63 23h1M68 23h1M35 24h1M37 24h1M49 24h2M54 24h1M58 24h3M62 24h2M52 25h1M56 25h3M61 25h1M63 25h2M66 25h2M48 26h1M53 26h1M58 26h4M38 27h1M47 27h2M52 27h1M58 27h1M61 27h1M64 27h3M68 27h1M31 28h1M39 28h3M46 28h1M54 28h1M56 28h1M63 28h1M68 28h2M28 29h1M52 29h1M54 29h3M58 29h1M62 29h2M66 29h3M36 30h1M47 30h2M54 30h1M56 30h7M70 30h1M32 31h1M35 31h1M49 31h2M52 31h1M55 31h1M57 31h5M37 32h1M39 32h1M45 32h1M48 32h2M52 32h2M55 32h2M58 32h1M60 32h1M64 32h1M66 32h1M69 32h1M73 32h1M42 33h1M45 33h1M47 33h1M49 33h3M55 33h2M60 33h1M62 33h2M67 33h1M69 33h1M39 34h2M47 34h3M54 34h2M58 34h2M62 34h4M71 34h1M78 34h1M34 35h1M39 35h1M45 35h1M51 35h1M54 35h1M56 35h2M59 35h4M66 35h3M25 36h1M32 36h1M39 36h2M50 36h2M53 36h5M59 36h1M63 36h1M68 36h1M46 37h2M54 37h1M56 37h2M59 37h1M63 37h1M66 37h2M49 38h2M54 38h2M60 38h3M69 38h1M27 39h1M32 39h1M41 39h3M48 39h1M53 39h1M55 39h1M62 39h1M27 40h1M38 40h1M40 40h1M42 40h2M56 40h1M59 40h3M67 40h1M28 41h1M35 41h1M38 41h1M41 41h1M47 41h1M50 41h1M55 41h1M57 41h2M60 41h1M68 41h1M31 42h1M35 42h1M37 42h1M41 42h1M44 42h1M46 42h1M48 42h1M51 42h1M56 42h1M59 42h1M61 42h1M65 42h1M36 43h1M50 43h1M55 43h1M58 43h3M66 43h1M69 43h1M71 43h1M40 44h1M42 44h1M46 44h2M49 44h1M53 44h1M55 44h1M60 44h1M62 44h1M66 44h1M69 44h1M42 45h1M48 45h1M53 45h1M56 45h1M58 45h1M62 45h1M64 45h1M45 46h1M49 46h1M58 46h1M67 46h1M24 47h1M56 47h1M58 47h2M64 47h1M66 47h1M46 48h1M49 48h1M56 48h1M58 48h2M61 48h2M67 48h1M50 49h2M53 49h1M57 49h1M59 49h1M62 49h2M23 50h1M43 50h1M47 50h1M57 50h1M60 50h1M65 50h2M69 50h1M26 51h1M33 51h1M51 51h2M54 51h3M59 51h1M63 51h1M65 51h1M67 51h1M37 52h2M47 52h1M55 52h3M63 52h1M68 52h1M11 53h1M48 53h1M53 53h2M58 53h1M29 54h1M37 54h1M43 54h1M52 54h1M55 54h1M57 54h2M60 54h1M62 54h2M5 55h1M10 55h1M14 55h1M17 55h1M19 55h4M25 55h3M32 55h1M35 55h1M37 55h2M41 55h2M45 55h1M47 55h1M50 55h2M53 55h1M55 55h1M57 55h1M60 55h1M62 55h1M67 55h1M4 56h14M19 56h4M24 56h2M27 56h2M30 56h2M33 56h3M37 56h7M46 56h1M48 56h4M54 56h3M59 56h5M1 57h1M3 57h1M5 57h1M7 57h1M9 57h2M12 57h15M28 57h14M43 57h3M47 57h8M56 57h2M60 57h2M67 57h1M71 57h1M1 58h32M34 58h8M43 58h5M51 58h7M59 58h5M65 58h1M72 58h1M1 59h42M44 59h1M47 59h2M50 59h6M58 59h3M62 59h1M64 59h2M68 59h1M1 60h42M46 60h1M49 60h2M52 60h4M57 60h2M60 60h4M65 60h1M67 60h1M71 60h1M1 61h48M51 61h2M54 61h4M59 61h3M63 61h1M68 61h1M1 62h55M57 62h5M64 62h1M1 63h64M66 63h1M71 63h1M1 64h62M64 64h3M1 65h61M63 65h5M1 66h53M55 66h8M64 66h2M69 66h1M1 67h62M65 67h1M69 67h1M1 68h65M69 68h1M1 69h63M66 69h1M1 70h63M66 70h1M68 70h1M1 71h65M71 71h1M1 72h61M64 72h1M68 72h1M72 72h1M1 73h58M60 73h2M64 73h3M69 73h2M1 74h62M64 74h1M71 74h1M1 75h59M61 75h4M69 75h1M1 76h68M70 76h1M1 77h62M65 77h1M67 77h1M1 78h65M69 78h1M1 79h59M61 79h7M1 80h56M58 80h4M63 80h3M67 80h1M1 81h66M70 81h1M1 82h58M60 82h5M69 82h1M1 83h65M1 84h57M59 84h2M62 84h4M68 84h1M1 85h63M66 85h1M1 86h66M68 86h2" stroke="#111" stroke-width="1" fill="none"/>
<rect x="187.5" y="294.5" width="87" height="87" fill="none" stroke="#444" stroke-width="1"/>
<path d="M229.5 294v88M187 338.5h88" stroke="#444" stroke-width="1"/>
<text x="184.7" y="384.4" text-anchor="end" class="tk">10<tspan dy="-1.8" class="tks">0</tspan></text>
<text x="187.5" y="389.5" text-anchor="middle" class="tk">10<tspan dy="-1.8" class="tks">0</tspan></text>
<text x="184.7" y="362.6" text-anchor="end" class="tk">10<tspan dy="-1.8" class="tks">1</tspan></text>
<text x="209.2" y="389.5" text-anchor="middle" class="tk">10<tspan dy="-1.8" class="tks">1</tspan></text>
<text x="184.7" y="340.9" text-anchor="end" class="tk">10<tspan dy="-1.8" class="tks">2</tspan></text>
<text x="231.0" y="389.5" text-anchor="middle" class="tk">10<tspan dy="-1.8" class="tks">2</tspan></text>
<text x="184.7" y="319.1" text-anchor="end" class="tk">10<tspan dy="-1.8" class="tks">3</tspan></text>
<text x="252.8" y="389.5" text-anchor="middle" class="tk">10<tspan dy="-1.8" class="tks">3</tspan></text>
<text x="184.7" y="297.4" text-anchor="end" class="tk">10<tspan dy="-1.8" class="tks">4</tspan></text>
<text x="274.5" y="389.5" text-anchor="middle" class="tk">10<tspan dy="-1.8" class="tks">4</tspan></text>
<path d="M185.3 381.5h2.2M187.5 381.5v2.2M186.2 375.0h1.3M194.0 381.5v1.3M186.2 371.1h1.3M197.9 381.5v1.3M186.2 368.4h1.3M200.6 381.5v1.3M186.2 366.3h1.3M202.7 381.5v1.3M186.2 364.6h1.3M204.4 381.5v1.3M186.2 363.1h1.3M205.9 381.5v1.3M186.2 361.9h1.3M207.1 381.5v1.3M186.2 360.7h1.3M208.3 381.5v1.3M185.3 359.8h2.2M209.2 381.5v2.2M186.2 353.2h1.3M215.8 381.5v1.3M186.2 349.4h1.3M219.6 381.5v1.3M186.2 346.7h1.3M222.3 381.5v1.3M186.2 344.5h1.3M224.5 381.5v1.3M186.2 342.8h1.3M226.2 381.5v1.3M186.2 341.4h1.3M227.6 381.5v1.3M186.2 340.1h1.3M228.9 381.5v1.3M186.2 339.0h1.3M230.0 381.5v1.3M185.3 338.0h2.2M231.0 381.5v2.2M186.2 331.5h1.3M237.5 381.5v1.3M186.2 327.6h1.3M241.4 381.5v1.3M186.2 324.9h1.3M244.1 381.5v1.3M186.2 322.8h1.3M246.2 381.5v1.3M186.2 321.1h1.3M247.9 381.5v1.3M186.2 319.6h1.3M249.4 381.5v1.3M186.2 318.4h1.3M250.6 381.5v1.3M186.2 317.2h1.3M251.8 381.5v1.3M185.3 316.2h2.2M252.8 381.5v2.2M186.2 309.7h1.3M259.3 381.5v1.3M186.2 305.9h1.3M263.1 381.5v1.3M186.2 303.2h1.3M265.8 381.5v1.3M186.2 301.0h1.3M268.0 381.5v1.3M186.2 299.3h1.3M269.7 381.5v1.3M186.2 297.9h1.3M271.1 381.5v1.3M186.2 296.6h1.3M272.4 381.5v1.3M186.2 295.5h1.3M273.5 381.5v1.3M185.3 294.5h2.2M274.5 381.5v2.2" stroke="#555" stroke-width="0.8" fill="none"/>
<text x="190" y="305" class="q">0.1</text>
<text x="272.5" y="305" class="q" text-anchor="end">0.4</text>
<text x="272.5" y="379.7" class="q" text-anchor="end">8.1</text>
<text x="189.5" y="348" class="q">91.4</text>
<path transform="translate(306,294.5)" d="M2 5h1M44 5h1M46 8h1M58 8h1M65 8h1M40 9h1M43 9h1M47 9h1M62 9h1M53 10h1M61 10h1M45 11h1M50 11h1M57 11h1M65 11h1M54 12h1M59 12h1M30 13h1M40 13h1M49 13h2M54 13h1M56 13h1M30 14h1M46 14h1M48 14h1M54 14h2M61 14h1M58 15h1M60 15h2M70 15h2M19 16h1M32 16h1M44 16h1M51 16h1M11 17h1M14 17h1M30 17h1M32 17h1M34 17h2M43 17h3M50 17h1M58 17h1M61 17h1M67 17h1M2 18h1M23 18h1M36 18h1M39 18h1M50 18h1M53 18h2M60 18h1M68 18h1M74 18h1M1 19h1M13 19h1M31 19h1M37 19h1M46 19h1M49 19h1M53 19h1M60 19h1M62 19h1M67 19h1M5 20h1M21 20h1M31 20h3M41 20h1M46 20h3M58 20h1M62 20h1M1 21h1M19 21h1M28 21h1M35 21h1M42 21h1M49 21h1M51 21h3M58 21h3M66 21h1M73 21h1M7 22h1M23 22h1M33 22h1M37 22h1M40 22h1M42 22h1M54 22h2M57 22h1M69 22h2M74 22h1M1 23h1M32 23h2M40 23h1M43 23h1M47 23h1M55 23h2M58 23h1M62 23h1M64 23h1M67 23h1M30 24h1M40 24h2M44 24h1M46 24h2M51 24h1M53 24h1M55 24h1M65 24h1M67 24h1M3 25h1M16 25h1M24 25h2M28 25h1M32 25h1M34 25h2M37 25h1M39 25h2M51 25h4M56 25h2M60 25h1M62 25h1M26 26h1M42 26h1M57 26h5M63 26h2M67 26h1M24 27h1M32 27h1M35 27h3M39 27h2M42 27h3M52 27h4M57 27h1M63 27h1M66 27h1M1 28h1M5 28h1M9 28h1M15 28h1M34 28h1M37 28h1M40 28h1M46 28h1M48 28h1M55 28h1M57 28h1M59 28h4M66 28h1M68 28h2M1 29h1M18 29h1M41 29h1M43 29h2M46 29h2M50 29h1M52 29h1M56 29h1M59 29h1M61 29h5M67 29h1M1 30h1M9 30h1M19 30h3M24 30h1M30 30h1M33 30h1M35 30h1M40 30h1M44 30h1M46 30h3M56 30h2M59 30h3M64 30h2M12 31h1M33 31h1M35 31h1M41 31h1M44 31h1M46 31h1M48 31h1M51 31h1M53 31h3M57 31h1M59 31h1M64 31h2M67 31h1M19 32h1M26 32h1M34 32h1M39 32h2M45 32h2M51 32h1M53 32h1M55 32h1M61 32h1M64 32h1M68 32h1M1 33h1M24 33h1M34 33h1M37 33h3M41 33h2M44 33h1M48 33h3M53 33h2M56 33h1M58 33h5M66 33h1M68 33h2M1 34h1M6 34h1M27 34h1M35 34h1M42 34h1M44 34h3M51 34h2M56 34h3M62 34h1M64 34h1M67 34h1M72 34h1M15 35h1M32 35h2M42 35h1M45 35h2M50 35h7M58 35h2M61 35h1M63 35h1M65 35h3M1 36h1M24 36h1M35 36h1M37 36h1M43 36h1M45 36h3M50 36h2M54 36h2M57 36h1M61 36h1M65 36h1M67 36h1M15 37h1M28 37h1M40 37h3M46 37h2M50 37h1M52 37h2M63 37h1M75 37h1M1 38h2M29 38h1M39 38h1M44 38h2M47 38h2M50 38h1M53 38h1M56 38h2M61 38h2M66 38h1M71 38h1M32 39h1M38 39h1M48 39h1M52 39h3M56 39h1M58 39h1M76 39h1M31 40h1M38 40h1M41 40h1M49 40h1M51 40h1M54 40h1M58 40h1M63 40h2M1 41h1M17 41h1M37 41h1M46 41h2M49 41h1M57 41h1M60 41h1M67 41h1M73 41h1M17 42h1M23 42h1M47 42h2M50 42h1M53 42h1M57 42h1M60 42h1M69 42h1M76 42h1M1 43h1M31 43h1M45 43h2M48 43h1M50 43h1M53 43h1M56 43h1M64 43h1M1 44h1M36 44h1M38 44h1M43 44h1M45 44h2M49 44h1M54 44h1M57 44h1M59 44h1M61 44h1M65 44h1M1 45h2M24 45h1M28 45h1M31 45h1M43 45h1M45 45h1M49 45h1M54 45h2M58 45h2M61 45h1M77 45h1M41 46h1M46 46h1M48 46h2M51 46h5M62 46h1M36 47h1M38 47h1M50 47h2M1 48h1M40 48h2M46 48h2M49 48h1M54 48h2M57 48h1M1 49h2M28 49h1M30 49h1M52 49h1M55 49h1M57 49h1M64 49h1M84 49h1M1 50h1M50 50h1M60 50h1M64 50h1M66 50h1M36 51h1M44 51h1M46 51h2M50 51h1M55 51h1M58 51h1M60 51h2M45 52h2M1 53h1M37 53h1M45 53h1M47 53h1M54 53h1M60 53h1M62 53h1M74 53h1M47 54h1M49 54h2M54 54h1M56 54h1M65 54h1M70 54h1M1 55h1M43 55h1M45 55h1M50 55h4M56 55h1M59 55h1M1 56h1M16 56h1M25 56h1M34 56h1M41 56h1M43 56h1M47 56h1M54 56h2M59 56h1M65 56h1M35 57h1M47 57h2M55 57h1M2 58h1M42 58h1M48 58h1M50 58h1M62 58h1M1 59h2M42 59h1M44 59h1M48 59h1M55 59h1M57 59h1M1 60h2M36 60h1M47 60h3M53 60h2M66 60h1M25 61h1M39 61h1M50 61h1M53 61h2M56 61h1M2 62h1M30 62h1M48 62h1M51 62h1M53 62h3M62 62h1M77 62h1M2 63h1M25 63h3M30 63h1M36 63h1M42 63h1M47 63h2M53 63h2M59 63h1M2 64h1M29 64h3M43 64h2M49 64h2M55 64h1M60 64h1M8 65h1M14 65h2M19 65h2M22 65h2M25 65h1M27 65h1M29 65h1M31 65h1M39 65h2M44 65h1M46 65h2M49 65h4M1 66h1M17 66h4M23 66h1M25 66h2M28 66h1M31 66h2M34 66h2M50 66h2M53 66h1M55 66h1M59 66h1M1 67h3M18 67h2M21 67h1M24 67h6M32 67h3M41 67h1M44 67h1M46 67h1M48 67h1M51 67h1M53 67h3M61 67h1M14 68h1M16 68h1M19 68h2M22 68h1M24 68h1M26 68h1M28 68h1M30 68h11M42 68h1M44 68h1M50 68h1M53 68h1M1 69h1M12 69h2M15 69h2M19 69h1M21 69h5M28 69h1M30 69h1M32 69h1M35 69h1M42 69h4M47 69h2M51 69h1M54 69h2M57 69h1M11 70h1M13 70h3M17 70h1M19 70h2M23 70h2M27 70h1M29 70h1M31 70h3M35 70h2M39 70h1M43 70h3M48 70h2M52 70h3M57 70h2M13 71h5M19 71h2M23 71h7M31 71h7M42 71h7M50 71h1M52 71h4M58 71h1M65 71h1M4 72h1M6 72h2M11 72h1M15 72h20M36 72h9M47 72h14M70 72h1M1 73h1M7 73h7M16 73h1M19 73h23M43 73h10M54 73h1M56 73h1M58 73h1M64 73h1M8 74h1M10 74h1M16 74h2M19 74h5M25 74h1M27 74h7M35 74h9M45 74h8M54 74h6M66 74h1M4 75h2M7 75h2M10 75h1M13 75h1M15 75h5M21 75h7M29 75h4M34 75h1M36 75h12M49 75h9M59 75h2M76 75h1M1 76h1M6 76h1M8 76h3M12 76h1M14 76h1M17 76h3M21 76h3M26 76h6M33 76h2M36 76h16M53 76h5M62 76h1M2 77h1M6 77h1M11 77h1M14 77h4M19 77h4M24 77h6M31 77h9M42 77h15M60 77h1M62 77h1M3 78h1M6 78h2M10 78h1M13 78h1M15 78h2M18 78h2M21 78h1M24 78h3M28 78h3M32 78h26M59 78h3M64 78h1M4 79h1M6 79h2M9 79h1M11 79h2M14 79h1M17 79h2M20 79h4M25 79h6M32 79h5M38 79h5M44 79h1M46 79h16M1 80h1M10 80h1M12 80h1M14 80h5M21 80h5M27 80h6M34 80h24M59 80h5M65 80h1M2 81h1M7 81h2M10 81h5M17 81h1M19 81h1M21 81h5M27 81h2M30 81h2M33 81h4M38 81h1M40 81h22M65 81h1M67 81h1M5 82h1M9 82h1M15 82h1M18 82h1M20 82h3M24 82h1M27 82h2M31 82h2M34 82h8M43 82h16M62 82h1M11 83h2M16 83h2M21 83h2M25 83h1M33 83h4M41 83h14M56 83h2M64 83h1M66 83h1M2 84h1M4 84h1M6 84h1M12 84h1M14 84h1M16 84h1M18 84h1M20 84h2M24 84h1M27 84h1M29 84h2M33 84h1M36 84h2M39 84h3M44 84h4M49 84h5M55 84h3M61 84h1M65 84h1M4 85h1M15 85h1M18 85h2M23 85h1M28 85h3M35 85h2M38 85h1M40 85h1M42 85h1M44 85h4M49 85h5M55 85h1M57 85h1M59 85h1M1 86h1M3 86h1M7 86h2M11 86h2M18 86h2M23 86h2M29 86h1M31 86h1M33 86h2M38 86h20M59 86h1M62 86h1M65 86h2M76 86h1" stroke="#111" stroke-width="1" fill="none"/>
<rect x="306.5" y="294.5" width="87" height="87" fill="none" stroke="#444" stroke-width="1"/>
<path d="M348.5 294v88M306 338.5h88" stroke="#444" stroke-width="1"/>
<text x="303.7" y="384.4" text-anchor="end" class="tk">10<tspan dy="-1.8" class="tks">0</tspan></text>
<text x="306.5" y="389.5" text-anchor="middle" class="tk">10<tspan dy="-1.8" class="tks">0</tspan></text>
<text x="303.7" y="362.6" text-anchor="end" class="tk">10<tspan dy="-1.8" class="tks">1</tspan></text>
<text x="328.2" y="389.5" text-anchor="middle" class="tk">10<tspan dy="-1.8" class="tks">1</tspan></text>
<text x="303.7" y="340.9" text-anchor="end" class="tk">10<tspan dy="-1.8" class="tks">2</tspan></text>
<text x="350.0" y="389.5" text-anchor="middle" class="tk">10<tspan dy="-1.8" class="tks">2</tspan></text>
<text x="303.7" y="319.1" text-anchor="end" class="tk">10<tspan dy="-1.8" class="tks">3</tspan></text>
<text x="371.8" y="389.5" text-anchor="middle" class="tk">10<tspan dy="-1.8" class="tks">3</tspan></text>
<text x="303.7" y="297.4" text-anchor="end" class="tk">10<tspan dy="-1.8" class="tks">4</tspan></text>
<text x="393.5" y="389.5" text-anchor="middle" class="tk">10<tspan dy="-1.8" class="tks">4</tspan></text>
<path d="M304.3 381.5h2.2M306.5 381.5v2.2M305.2 375.0h1.3M313.0 381.5v1.3M305.2 371.1h1.3M316.9 381.5v1.3M305.2 368.4h1.3M319.6 381.5v1.3M305.2 366.3h1.3M321.7 381.5v1.3M305.2 364.6h1.3M323.4 381.5v1.3M305.2 363.1h1.3M324.9 381.5v1.3M305.2 361.9h1.3M326.1 381.5v1.3M305.2 360.7h1.3M327.3 381.5v1.3M304.3 359.8h2.2M328.2 381.5v2.2M305.2 353.2h1.3M334.8 381.5v1.3M305.2 349.4h1.3M338.6 381.5v1.3M305.2 346.7h1.3M341.3 381.5v1.3M305.2 344.5h1.3M343.5 381.5v1.3M305.2 342.8h1.3M345.2 381.5v1.3M305.2 341.4h1.3M346.6 381.5v1.3M305.2 340.1h1.3M347.9 381.5v1.3M305.2 339.0h1.3M349.0 381.5v1.3M304.3 338.0h2.2M350.0 381.5v2.2M305.2 331.5h1.3M356.5 381.5v1.3M305.2 327.6h1.3M360.4 381.5v1.3M305.2 324.9h1.3M363.1 381.5v1.3M305.2 322.8h1.3M365.2 381.5v1.3M305.2 321.1h1.3M366.9 381.5v1.3M305.2 319.6h1.3M368.4 381.5v1.3M305.2 318.4h1.3M369.6 381.5v1.3M305.2 317.2h1.3M370.8 381.5v1.3M304.3 316.2h2.2M371.8 381.5v2.2M305.2 309.7h1.3M378.3 381.5v1.3M305.2 305.9h1.3M382.1 381.5v1.3M305.2 303.2h1.3M384.8 381.5v1.3M305.2 301.0h1.3M387.0 381.5v1.3M305.2 299.3h1.3M388.7 381.5v1.3M305.2 297.9h1.3M390.1 381.5v1.3M305.2 296.6h1.3M391.4 381.5v1.3M305.2 295.5h1.3M392.5 381.5v1.3M304.3 294.5h2.2M393.5 381.5v2.2" stroke="#555" stroke-width="0.8" fill="none"/>
<text x="309" y="305" class="q">1.4</text>
<text x="391.5" y="305" class="q" text-anchor="end">3.3</text>
<text x="391.5" y="379.7" class="q" text-anchor="end">61.7</text>
<text x="309.5" y="348.5" class="q">33.6</text>
<path transform="translate(427,294.5)" d="M38 1h1M43 5h1M33 6h1M53 6h1M60 6h1M6 7h2M12 7h1M14 7h1M42 7h1M47 7h1M48 9h1M50 9h1M16 10h1M20 10h1M26 10h1M57 10h1M68 10h1M14 11h1M46 11h2M52 11h1M15 12h1M43 12h1M45 12h4M50 12h1M52 12h1M57 12h1M20 13h1M42 13h1M46 13h1M54 13h1M56 13h1M26 14h1M32 14h1M44 14h2M47 14h1M67 14h1M73 14h1M6 15h1M23 15h1M44 15h1M50 15h1M52 15h1M54 15h1M56 15h1M65 15h1M69 15h1M10 16h1M12 16h1M20 16h1M27 16h1M31 16h1M34 16h1M47 16h1M49 16h1M53 16h2M56 16h1M58 16h1M1 17h1M32 17h1M41 17h1M44 17h2M47 17h3M52 17h2M57 17h2M60 17h1M62 17h1M66 17h1M10 18h1M16 18h1M45 18h11M60 18h2M63 18h1M24 19h2M37 19h1M41 19h3M45 19h6M53 19h1M55 19h5M6 20h1M41 20h5M47 20h2M50 20h2M53 20h2M56 20h6M63 20h1M66 20h1M6 21h2M10 21h1M20 21h1M23 21h1M38 21h1M40 21h1M43 21h2M46 21h14M61 21h1M63 21h1M1 22h1M7 22h1M19 22h1M36 22h2M39 22h1M41 22h2M45 22h2M48 22h1M50 22h4M55 22h1M57 22h1M59 22h1M61 22h2M64 22h1M66 22h1M72 22h1M19 23h1M22 23h1M24 23h1M26 23h1M37 23h3M41 23h4M46 23h1M48 23h4M53 23h1M55 23h7M65 23h1M69 23h1M73 23h1M19 24h2M31 24h1M35 24h1M37 24h1M40 24h5M46 24h7M54 24h2M57 24h5M72 24h1M6 25h1M38 25h15M54 25h1M56 25h7M64 25h5M18 26h1M24 26h2M30 26h1M34 26h1M38 26h1M43 26h4M48 26h11M61 26h2M68 26h1M2 27h1M24 27h2M29 27h2M34 27h1M37 27h1M40 27h6M47 27h17M66 27h1M68 27h1M1 28h1M4 28h1M9 28h1M15 28h1M24 28h1M31 28h1M34 28h1M38 28h1M41 28h23M65 28h1M69 28h1M1 29h1M4 29h1M7 29h2M14 29h1M20 29h1M25 29h1M27 29h3M38 29h1M41 29h1M43 29h4M48 29h11M65 29h1M16 30h1M29 30h1M36 30h1M41 30h4M46 30h1M48 30h14M63 30h2M75 30h1M2 31h1M7 31h1M9 31h1M11 31h1M25 31h1M30 31h2M33 31h1M41 31h1M43 31h17M61 31h1M63 31h2M67 31h1M6 32h1M9 32h1M15 32h1M33 32h4M38 32h1M40 32h4M45 32h2M48 32h5M54 32h8M73 32h1M22 33h2M30 33h2M35 33h1M40 33h6M47 33h3M51 33h9M61 33h6M2 34h1M4 34h4M13 34h1M18 34h1M21 34h1M23 34h1M26 34h1M38 34h4M43 34h13M57 34h9M72 34h2M15 35h1M18 35h1M24 35h1M27 35h1M31 35h1M35 35h3M39 35h10M50 35h15M15 36h1M19 36h1M29 36h1M33 36h1M35 36h2M38 36h2M41 36h12M54 36h4M59 36h3M64 36h1M69 36h1M3 37h1M7 37h1M19 37h1M24 37h1M32 37h1M35 37h2M40 37h1M44 37h4M50 37h3M54 37h1M56 37h9M17 38h1M28 38h1M31 38h1M36 38h2M39 38h2M42 38h1M44 38h3M48 38h5M54 38h4M59 38h4M2 39h1M6 39h1M11 39h1M16 39h2M24 39h1M26 39h1M36 39h1M38 39h14M54 39h3M58 39h2M61 39h1M63 39h3M5 40h1M7 40h1M14 40h2M17 40h1M19 40h1M26 40h2M30 40h1M37 40h2M40 40h6M47 40h14M62 40h4M2 41h1M6 41h1M9 41h1M14 41h1M16 41h1M21 41h1M27 41h1M29 41h1M38 41h1M40 41h2M45 41h2M48 41h6M55 41h2M58 41h5M64 41h2M4 42h1M8 42h1M15 42h1M20 42h1M22 42h2M25 42h1M27 42h1M30 42h2M38 42h1M41 42h5M47 42h4M55 42h1M57 42h2M60 42h1M62 42h1M65 42h1M4 43h1M11 43h2M15 43h1M17 43h2M24 43h2M27 43h1M30 43h1M41 43h1M43 43h1M45 43h1M48 43h5M56 43h2M59 43h2M62 43h3M67 43h2M71 43h1M3 44h1M8 44h1M14 44h1M17 44h2M32 44h1M34 44h1M38 44h1M41 44h3M46 44h2M49 44h1M51 44h3M55 44h3M59 44h5M69 44h1M1 45h2M5 45h1M7 45h1M9 45h1M14 45h1M16 45h1M21 45h1M28 45h1M31 45h1M34 45h1M39 45h1M41 45h2M44 45h1M46 45h1M48 45h8M58 45h1M60 45h2M63 45h1M65 45h1M67 45h1M3 46h4M11 46h1M13 46h2M21 46h2M25 46h1M33 46h3M40 46h1M43 46h2M46 46h3M50 46h3M54 46h4M59 46h3M63 46h2M68 46h1M71 46h1M1 47h1M3 47h1M11 47h1M16 47h1M18 47h1M21 47h1M25 47h2M36 47h1M39 47h1M42 47h11M54 47h1M56 47h7M65 47h3M1 48h1M4 48h1M6 48h1M11 48h1M13 48h2M16 48h1M20 48h2M23 48h2M26 48h1M30 48h3M34 48h1M40 48h5M46 48h4M51 48h2M54 48h7M63 48h1M3 49h1M6 49h2M14 49h1M16 49h3M21 49h1M23 49h1M28 49h1M37 49h2M40 49h1M43 49h1M46 49h2M49 49h10M61 49h2M65 49h1M71 49h1M7 50h1M14 50h3M20 50h1M23 50h1M25 50h1M31 50h2M36 50h3M40 50h1M42 50h1M45 50h3M49 50h6M56 50h4M61 50h2M64 50h1M12 51h2M15 51h1M19 51h1M21 51h1M23 51h2M26 51h1M39 51h5M45 51h7M53 51h5M60 51h3M3 52h1M13 52h1M16 52h1M24 52h2M29 52h3M34 52h1M41 52h2M44 52h3M49 52h7M57 52h1M59 52h3M63 52h3M68 52h1M2 53h1M4 53h1M11 53h3M18 53h1M20 53h1M22 53h1M26 53h1M28 53h1M41 53h7M49 53h1M51 53h4M57 53h2M61 53h3M67 53h1M11 54h3M19 54h1M22 54h1M28 54h1M30 54h1M32 54h1M34 54h1M39 54h1M41 54h1M43 54h1M45 54h2M48 54h4M53 54h1M55 54h4M60 54h1M64 54h1M5 55h3M21 55h1M27 55h1M33 55h1M39 55h2M42 55h8M51 55h1M53 55h3M57 55h1M60 55h3M12 56h1M15 56h1M21 56h1M29 56h1M34 56h1M37 56h1M39 56h1M41 56h2M44 56h5M51 56h1M53 56h4M58 56h4M64 56h1M69 56h1M9 57h1M13 57h1M16 57h1M18 57h1M20 57h2M24 57h1M26 57h1M41 57h2M44 57h2M47 57h3M51 57h12M66 57h1M19 58h1M26 58h1M32 58h1M37 58h1M41 58h4M46 58h1M48 58h7M56 58h1M59 58h2M62 58h3M72 58h1M1 59h1M5 59h1M8 59h1M12 59h1M18 59h1M22 59h1M27 59h1M31 59h1M33 59h1M36 59h2M43 59h1M45 59h9M55 59h2M58 59h1M60 59h1M64 59h1M7 60h2M13 60h1M18 60h1M24 60h1M27 60h1M40 60h1M44 60h1M47 60h1M52 60h12M66 60h1M10 61h1M15 61h1M20 61h1M23 61h1M33 61h2M40 61h1M43 61h1M46 61h3M50 61h2M54 61h2M57 61h2M60 61h4M67 61h1M2 62h1M10 62h1M13 62h1M22 62h1M28 62h2M36 62h1M38 62h1M45 62h4M50 62h2M53 62h5M59 62h2M7 63h1M19 63h1M22 63h1M24 63h2M27 63h1M32 63h1M39 63h1M42 63h4M47 63h13M61 63h2M1 64h1M3 64h1M9 64h1M14 64h3M18 64h1M20 64h1M25 64h2M33 64h1M39 64h2M43 64h1M45 64h17M4 65h1M6 65h1M13 65h1M15 65h1M18 65h2M25 65h2M29 65h1M35 65h3M43 65h1M45 65h12M58 65h6M65 65h1M2 66h1M7 66h1M16 66h1M18 66h1M20 66h1M24 66h1M30 66h4M36 66h1M42 66h21M6 67h1M9 67h2M13 67h1M16 67h1M19 67h2M26 67h2M33 67h1M42 67h5M48 67h16M13 68h1M20 68h1M23 68h1M25 68h2M37 68h1M42 68h22M79 68h1M3 69h1M7 69h1M15 69h3M19 69h5M27 69h1M37 69h1M42 69h15M58 69h2M61 69h3M73 69h1M5 70h1M15 70h1M17 70h2M21 70h8M30 70h1M32 70h1M42 70h4M48 70h17M10 71h1M12 71h1M17 71h4M22 71h11M35 71h1M37 71h1M42 71h2M45 71h18M64 71h1M5 72h1M15 72h1M18 72h4M23 72h3M27 72h1M29 72h5M35 72h1M37 72h1M39 72h1M42 72h10M53 72h12M10 73h1M12 73h1M17 73h3M22 73h2M25 73h3M30 73h1M32 73h6M41 73h1M43 73h6M50 73h10M61 73h4M11 74h1M14 74h2M17 74h5M23 74h4M28 74h8M37 74h1M42 74h16M59 74h1M61 74h4M3 75h3M10 75h1M13 75h4M18 75h7M26 75h3M30 75h1M32 75h5M38 75h2M42 75h22M12 76h3M16 76h1M18 76h14M33 76h3M39 76h1M42 76h7M50 76h15M11 77h1M13 77h3M17 77h2M20 77h1M22 77h2M25 77h6M34 77h3M38 77h1M43 77h22M4 78h1M9 78h1M11 78h7M19 78h2M22 78h1M24 78h1M26 78h2M29 78h1M31 78h4M36 78h4M41 78h11M53 78h10M64 78h1M2 79h1M8 79h1M11 79h2M15 79h9M25 79h3M32 79h2M35 79h3M42 79h7M50 79h2M53 79h12M66 79h1M3 80h1M7 80h1M11 80h2M15 80h1M19 80h7M28 80h1M33 80h3M37 80h2M40 80h25M9 81h1M11 81h2M15 81h2M18 81h3M22 81h5M28 81h6M35 81h1M37 81h2M40 81h1M42 81h2M45 81h9M55 81h10M10 82h2M13 82h1M15 82h18M34 82h2M41 82h22M64 82h1M10 83h2M17 83h4M22 83h11M34 83h6M41 83h7M49 83h9M59 83h6M11 84h1M13 84h1M16 84h1M20 84h1M22 84h1M24 84h7M32 84h9M42 84h10M54 84h3M58 84h2M61 84h2M64 84h1M13 85h2M16 85h2M19 85h1M21 85h1M23 85h2M26 85h2M30 85h2M33 85h1M35 85h1M42 85h7M50 85h15M3 86h3M8 86h2M12 86h2M15 86h5M21 86h3M25 86h1M27 86h6M34 86h3M38 86h3M42 86h22M15 87h3M19 87h1M22 87h2M25 87h2M28 87h5M34 87h1M37 87h1" stroke="#111" stroke-width="1" fill="none"/>
<rect x="427.5" y="294.5" width="86" height="87" fill="none" stroke="#444" stroke-width="1"/>
<path d="M468.5 294v88M427 338.5h87" stroke="#444" stroke-width="1"/>
<text x="424.7" y="384.4" text-anchor="end" class="tk">10<tspan dy="-1.8" class="tks">0</tspan></text>
<text x="427.5" y="389.5" text-anchor="middle" class="tk">10<tspan dy="-1.8" class="tks">0</tspan></text>
<text x="424.7" y="362.6" text-anchor="end" class="tk">10<tspan dy="-1.8" class="tks">1</tspan></text>
<text x="449.0" y="389.5" text-anchor="middle" class="tk">10<tspan dy="-1.8" class="tks">1</tspan></text>
<text x="424.7" y="340.9" text-anchor="end" class="tk">10<tspan dy="-1.8" class="tks">2</tspan></text>
<text x="470.5" y="389.5" text-anchor="middle" class="tk">10<tspan dy="-1.8" class="tks">2</tspan></text>
<text x="424.7" y="319.1" text-anchor="end" class="tk">10<tspan dy="-1.8" class="tks">3</tspan></text>
<text x="492.0" y="389.5" text-anchor="middle" class="tk">10<tspan dy="-1.8" class="tks">3</tspan></text>
<text x="424.7" y="297.4" text-anchor="end" class="tk">10<tspan dy="-1.8" class="tks">4</tspan></text>
<text x="513.5" y="389.5" text-anchor="middle" class="tk">10<tspan dy="-1.8" class="tks">4</tspan></text>
<path d="M425.3 381.5h2.2M427.5 381.5v2.2M426.2 375.0h1.3M434.0 381.5v1.3M426.2 371.1h1.3M437.8 381.5v1.3M426.2 368.4h1.3M440.4 381.5v1.3M426.2 366.3h1.3M442.5 381.5v1.3M426.2 364.6h1.3M444.2 381.5v1.3M426.2 363.1h1.3M445.7 381.5v1.3M426.2 361.9h1.3M446.9 381.5v1.3M426.2 360.7h1.3M448.0 381.5v1.3M425.3 359.8h2.2M449.0 381.5v2.2M426.2 353.2h1.3M455.5 381.5v1.3M426.2 349.4h1.3M459.3 381.5v1.3M426.2 346.7h1.3M461.9 381.5v1.3M426.2 344.5h1.3M464.0 381.5v1.3M426.2 342.8h1.3M465.7 381.5v1.3M426.2 341.4h1.3M467.2 381.5v1.3M426.2 340.1h1.3M468.4 381.5v1.3M426.2 339.0h1.3M469.5 381.5v1.3M425.3 338.0h2.2M470.5 381.5v2.2M426.2 331.5h1.3M477.0 381.5v1.3M426.2 327.6h1.3M480.8 381.5v1.3M426.2 324.9h1.3M483.4 381.5v1.3M426.2 322.8h1.3M485.5 381.5v1.3M426.2 321.1h1.3M487.2 381.5v1.3M426.2 319.6h1.3M488.7 381.5v1.3M426.2 318.4h1.3M489.9 381.5v1.3M426.2 317.2h1.3M491.0 381.5v1.3M425.3 316.2h2.2M492.0 381.5v2.2M426.2 309.7h1.3M498.5 381.5v1.3M426.2 305.9h1.3M502.3 381.5v1.3M426.2 303.2h1.3M504.9 381.5v1.3M426.2 301.0h1.3M507.0 381.5v1.3M426.2 299.3h1.3M508.7 381.5v1.3M426.2 297.9h1.3M510.2 381.5v1.3M426.2 296.6h1.3M511.4 381.5v1.3M426.2 295.5h1.3M512.5 381.5v1.3M425.3 294.5h2.2M513.5 381.5v2.2" stroke="#555" stroke-width="0.8" fill="none"/>
<text x="430" y="305" class="q">2.2</text>
<text x="511.5" y="305" class="q" text-anchor="end">5.9</text>
<text x="430" y="379.7" class="q">16.</text>
<text x="511.5" y="379.7" class="q" text-anchor="end">75.9</text>
<text x="4.6" y="20" class="big" style="font-size:25.5px;stroke:#000;stroke-width:0.3px">A</text>
<text x="71" y="21" class="t" text-anchor="middle">DN</text>
<text x="227" y="21" class="t" text-anchor="middle">DP</text>
<text x="346" y="21" class="t" text-anchor="middle">CD4int</text>
<text x="466" y="21" class="t" text-anchor="middle">CD4SP</text>
<ellipse cx="73" cy="190" rx="17" ry="11" transform="rotate(-60 73 190)" fill="none" stroke="#999" stroke-width="1"/>
<path d="M27 180.5h35M50.5 181v18M53.5 181v18M59.5 181v18M27 199.5h35" stroke="#999" stroke-width="1" fill="none"/>
<rect x="27.5" y="220.5" width="22" height="29" fill="none" stroke="#333" stroke-width="1"/>
<path d="M28 143H56M84 143H115.5M187 143H336M364 143H513.5M187 276H332M368.5 276H513.5M187 403H331M369 403H513.5M27.5 275.5H55.5M84 275.5H114.5M155.7 35V189M155.7 226.5V384M7.6 32V54M7.6 92.5V116.5M10.8 163V188M10.8 216.5V246.5" stroke="#000" stroke-width="1.7" fill="none"/>
<text x="70" y="148.5" class="ax" text-anchor="middle">CD3</text>
<text x="350" y="148.5" class="ax" text-anchor="middle">CD3</text>
<text x="350" y="281.5" class="ax" text-anchor="middle">CD1a</text>
<text x="350" y="410" class="ax" text-anchor="middle" style="font-size:15.6px">CD69</text>
<text x="70" y="281" class="ax" text-anchor="middle">CD8</text>
<text transform="translate(14,73.3) rotate(-90)" class="ax" text-anchor="middle" style="font-size:15.8px">CD25</text>
<text transform="translate(16.3,202.2) rotate(-90)" class="ax" text-anchor="middle">CD4</text>
<text transform="translate(161,207.8) rotate(-90)" class="ax" text-anchor="middle" style="font-size:15.3px">CD25</text>
<text x="2.6" y="449.2" class="big" style="font-size:23.5px;stroke:#000;stroke-width:0.3px">B</text>

<path d="M53.5 471.3V597.5H256" stroke="#666" stroke-width="1.1" fill="none"/>
<path d="M50 597.0h3.5" stroke="#666" stroke-width="1.1"/>
<text x="43.4" y="600.9" class="bt" text-anchor="end" style="font-size:9.5px;stroke:#111;stroke-width:0.3px" transform="translate(43.4,0) scale(1.45,1) translate(-43.4,0)">0</text>
<path d="M50 572.1h3.5" stroke="#666" stroke-width="1.1"/>
<text x="43.4" y="576.0" class="bt" text-anchor="end" style="font-size:9.5px;stroke:#111;stroke-width:0.3px" transform="translate(43.4,0) scale(1.45,1) translate(-43.4,0)">20</text>
<path d="M50 547.1h3.5" stroke="#666" stroke-width="1.1"/>
<text x="43.4" y="551.0" class="bt" text-anchor="end" style="font-size:9.5px;stroke:#111;stroke-width:0.3px" transform="translate(43.4,0) scale(1.45,1) translate(-43.4,0)">40</text>
<path d="M50 522.2h3.5" stroke="#666" stroke-width="1.1"/>
<text x="43.4" y="526.1" class="bt" text-anchor="end" style="font-size:9.5px;stroke:#111;stroke-width:0.3px" transform="translate(43.4,0) scale(1.45,1) translate(-43.4,0)">60</text>
<path d="M50 497.2h3.5" stroke="#666" stroke-width="1.1"/>
<text x="43.4" y="501.1" class="bt" text-anchor="end" style="font-size:9.5px;stroke:#111;stroke-width:0.3px" transform="translate(43.4,0) scale(1.45,1) translate(-43.4,0)">80</text>
<path d="M50 472.3h3.5" stroke="#666" stroke-width="1.1"/>
<text x="43.4" y="476.2" class="bt" text-anchor="end" style="font-size:9.5px;stroke:#111;stroke-width:0.3px" transform="translate(43.4,0) scale(1.45,1) translate(-43.4,0)">100</text>
<path d="M53.5 597.0v3.5" stroke="#666" stroke-width="1.1"/>
<path d="M104.0 597.0v3.5" stroke="#666" stroke-width="1.1"/>
<path d="M154.5 597.0v3.5" stroke="#666" stroke-width="1.1"/>
<path d="M205.0 597.0v3.5" stroke="#666" stroke-width="1.1"/>
<path d="M255.5 597.0v3.5" stroke="#666" stroke-width="1.1"/>
<path d="M69.3 506.0V496.0M67.0 496.0h4.6" stroke="#555" stroke-width="1.1"/>
<rect x="60.2" y="506.0" width="18.2" height="91.0" fill="#fff" stroke="#555" stroke-width="1.1"/>
<path d="M87.5 473.5V472.9M85.2 472.9h4.6" stroke="#555" stroke-width="1.1"/>
<rect x="78.4" y="473.5" width="18.2" height="123.5" fill="#000" stroke="#222" stroke-width="1.1"/>
<path d="M119.8 543.4V520.3M117.5 520.3h4.6" stroke="#555" stroke-width="1.1"/>
<rect x="110.7" y="543.4" width="18.2" height="53.6" fill="#fff" stroke="#555" stroke-width="1.1"/>
<path d="M138.0 482.3V477.9M135.7 477.9h4.6" stroke="#555" stroke-width="1.1"/>
<rect x="128.9" y="482.3" width="18.2" height="114.7" fill="#000" stroke="#222" stroke-width="1.1"/>
<path d="M170.3 553.4V542.1M168.0 542.1h4.6" stroke="#555" stroke-width="1.1"/>
<rect x="161.2" y="553.4" width="18.2" height="43.6" fill="#fff" stroke="#555" stroke-width="1.1"/>
<path d="M188.5 516.6V504.1M186.2 504.1h4.6" stroke="#555" stroke-width="1.1"/>
<rect x="179.4" y="516.6" width="18.2" height="80.4" fill="#000" stroke="#222" stroke-width="1.1"/>
<rect x="211.7" y="596.4" width="18.2" height="0.6" fill="#fff" stroke="#555" stroke-width="1.1"/>
<path d="M239.0 593.3V592.0M236.7 592.0h4.6" stroke="#555" stroke-width="1.1"/>
<rect x="229.9" y="593.3" width="18.2" height="3.7" fill="#000" stroke="#222" stroke-width="1.1"/>
<path d="M60.2 468h36.4" stroke="#666" stroke-width="1.1"/>
<text x="78.4" y="466.9" text-anchor="middle" style="font-size:10px;font-weight:bold;fill:#666">*</text>
<path d="M110.7 468h36.4" stroke="#666" stroke-width="1.1"/>
<text x="128.9" y="466.9" text-anchor="middle" style="font-size:10px;font-weight:bold;fill:#666">*</text>
<path d="M161.2 468h36.4" stroke="#666" stroke-width="1.1"/>
<text x="179.4" y="466.9" text-anchor="middle" style="font-size:10px;font-weight:bold;fill:#666">*</text>
<text x="78.5" y="612.0" class="bt" text-anchor="middle" style="font-size:8.5px;stroke:#111;stroke-width:0.3px" transform="translate(78.5,0) scale(1.29,1) translate(-78.5,0)">DP</text>
<text x="129.0" y="612.0" class="bt" text-anchor="middle" style="font-size:8.5px;stroke:#111;stroke-width:0.3px" transform="translate(129.0,0) scale(1.27,1) translate(-129.0,0)">CD4int</text>
<text x="179.5" y="612.0" class="bt" text-anchor="middle" style="font-size:8.5px;stroke:#111;stroke-width:0.3px" transform="translate(179.5,0) scale(1.23,1) translate(-179.5,0)">CD4SP</text>
<text x="230.0" y="612.0" class="bt" text-anchor="middle" style="font-size:8.5px;stroke:#111;stroke-width:0.3px" transform="translate(230.0,0) scale(1.23,1) translate(-230.0,0)">CD4SP</text>
<path d="M62.7 615h137M211 615h38" stroke="#666" stroke-width="1.1"/>
<text x="128.0" y="624.0" class="bt" text-anchor="middle" style="font-size:10px;stroke:#111;stroke-width:0.3px" transform="translate(128.0,0) scale(1.26,1) translate(-128.0,0)">thymus</text>
<text x="230.8" y="624.3" class="bt" text-anchor="middle" style="font-size:10.3px;stroke:#111;stroke-width:0.3px" transform="translate(230.8,0) scale(1.17,1) translate(-230.8,0)">spleen</text>
<text transform="translate(12.8,530) rotate(-90) scale(1.2,1)" class="bt" text-anchor="middle" style="font-size:10px;stroke:#111;stroke-width:0.3px">% CD1a<tspan dy="-4" font-size="11">+</tspan></text>
<path d="M310.5 470.3V596.8H513" stroke="#666" stroke-width="1.1" fill="none"/>
<path d="M307 596.3h3.5" stroke="#666" stroke-width="1.1"/>
<text x="300.4" y="600.2" class="bt" text-anchor="end" style="font-size:9.5px;stroke:#111;stroke-width:0.3px" transform="translate(300.4,0) scale(1.45,1) translate(-300.4,0)">0</text>
<path d="M307 571.3h3.5" stroke="#666" stroke-width="1.1"/>
<text x="300.4" y="575.2" class="bt" text-anchor="end" style="font-size:9.5px;stroke:#111;stroke-width:0.3px" transform="translate(300.4,0) scale(1.45,1) translate(-300.4,0)">20</text>
<path d="M307 546.3h3.5" stroke="#666" stroke-width="1.1"/>
<text x="300.4" y="550.2" class="bt" text-anchor="end" style="font-size:9.5px;stroke:#111;stroke-width:0.3px" transform="translate(300.4,0) scale(1.45,1) translate(-300.4,0)">40</text>
<path d="M307 521.3h3.5" stroke="#666" stroke-width="1.1"/>
<text x="300.4" y="525.2" class="bt" text-anchor="end" style="font-size:9.5px;stroke:#111;stroke-width:0.3px" transform="translate(300.4,0) scale(1.45,1) translate(-300.4,0)">60</text>
<path d="M307 496.3h3.5" stroke="#666" stroke-width="1.1"/>
<text x="300.4" y="500.2" class="bt" text-anchor="end" style="font-size:9.5px;stroke:#111;stroke-width:0.3px" transform="translate(300.4,0) scale(1.45,1) translate(-300.4,0)">80</text>
<path d="M307 471.3h3.5" stroke="#666" stroke-width="1.1"/>
<text x="300.4" y="475.2" class="bt" text-anchor="end" style="font-size:9.5px;stroke:#111;stroke-width:0.3px" transform="translate(300.4,0) scale(1.45,1) translate(-300.4,0)">100</text>
<path d="M310.5 596.3v3.5" stroke="#666" stroke-width="1.1"/>
<path d="M361.0 596.3v3.5" stroke="#666" stroke-width="1.1"/>
<path d="M411.5 596.3v3.5" stroke="#666" stroke-width="1.1"/>
<path d="M462.0 596.3v3.5" stroke="#666" stroke-width="1.1"/>
<path d="M512.5 596.3v3.5" stroke="#666" stroke-width="1.1"/>
<path d="M326.3 489.4V471.3M324.0 471.3h4.6" stroke="#555" stroke-width="1.1"/>
<rect x="317.2" y="489.4" width="18.2" height="106.9" fill="#fff" stroke="#555" stroke-width="1.1"/>
<path d="M344.5 577.5V568.8M342.2 568.8h4.6" stroke="#555" stroke-width="1.1"/>
<rect x="335.4" y="577.5" width="18.2" height="18.8" fill="#000" stroke="#222" stroke-width="1.1"/>
<path d="M376.8 497.6V475.1M374.5 475.1h4.6" stroke="#555" stroke-width="1.1"/>
<rect x="367.7" y="497.6" width="18.2" height="98.7" fill="#fff" stroke="#555" stroke-width="1.1"/>
<path d="M395.0 524.4V513.8M392.7 513.8h4.6" stroke="#555" stroke-width="1.1"/>
<rect x="385.9" y="524.4" width="18.2" height="71.9" fill="#000" stroke="#222" stroke-width="1.1"/>
<path d="M427.3 491.6V475.7M425.0 475.7h4.6" stroke="#555" stroke-width="1.1"/>
<rect x="418.2" y="491.6" width="18.2" height="104.7" fill="#fff" stroke="#555" stroke-width="1.1"/>
<path d="M445.5 486.3V481.9M443.2 481.9h4.6" stroke="#555" stroke-width="1.1"/>
<rect x="436.4" y="486.3" width="18.2" height="110.0" fill="#000" stroke="#222" stroke-width="1.1"/>
<path d="M477.8 574.4V563.8M475.5 563.8h4.6" stroke="#555" stroke-width="1.1"/>
<rect x="468.7" y="574.4" width="18.2" height="21.9" fill="#fff" stroke="#555" stroke-width="1.1"/>
<path d="M496.0 588.2V583.8M493.7 583.8h4.6" stroke="#555" stroke-width="1.1"/>
<rect x="486.9" y="588.2" width="18.2" height="8.1" fill="#000" stroke="#222" stroke-width="1.1"/>
<path d="M317.2 467h36.4" stroke="#666" stroke-width="1.1"/>
<text x="335.4" y="465.7" text-anchor="middle" style="font-size:10px;font-weight:bold;fill:#666">*</text>
<path d="M468.7 559.5h36.4" stroke="#666" stroke-width="1.1"/>
<text x="486.9" y="558.2" text-anchor="middle" style="font-size:10px;font-weight:bold;fill:#666">*</text>
<text x="335.5" y="612.0" class="bt" text-anchor="middle" style="font-size:8.5px;stroke:#111;stroke-width:0.3px" transform="translate(335.5,0) scale(1.29,1) translate(-335.5,0)">DP</text>
<text x="386.0" y="612.0" class="bt" text-anchor="middle" style="font-size:8.5px;stroke:#111;stroke-width:0.3px" transform="translate(386.0,0) scale(1.27,1) translate(-386.0,0)">CD4int</text>
<text x="436.5" y="612.0" class="bt" text-anchor="middle" style="font-size:8.5px;stroke:#111;stroke-width:0.3px" transform="translate(436.5,0) scale(1.23,1) translate(-436.5,0)">CD4SP</text>
<text x="487.0" y="612.0" class="bt" text-anchor="middle" style="font-size:8.5px;stroke:#111;stroke-width:0.3px" transform="translate(487.0,0) scale(1.23,1) translate(-487.0,0)">CD4SP</text>
<path d="M319.7 615h137M468 615h38" stroke="#666" stroke-width="1.1"/>
<text x="385.0" y="624.0" class="bt" text-anchor="middle" style="font-size:10px;stroke:#111;stroke-width:0.3px" transform="translate(385.0,0) scale(1.26,1) translate(-385.0,0)">thymus</text>
<text x="487.8" y="624.3" class="bt" text-anchor="middle" style="font-size:10.3px;stroke:#111;stroke-width:0.3px" transform="translate(487.8,0) scale(1.17,1) translate(-487.8,0)">spleen</text>
<text transform="translate(270.5,526.6) rotate(-90) scale(1.2,1)" class="bt" text-anchor="middle" style="font-size:10px;stroke:#111;stroke-width:0.3px">% CD69 <tspan dy="-4" font-size="11">+</tspan></text>
<rect x="469.2" y="454.5" width="5.6" height="5.6" fill="#fff" stroke="#777" stroke-width="1.1"/><text x="478.6" y="461.3" class="bt" text-anchor="start" style="font-size:9.2px;stroke:#111;stroke-width:0.3px" transform="translate(478.6,0) scale(1.41,1) translate(-478.6,0)">CD25+</text><rect x="468.7" y="467" width="6.3" height="6.3" fill="#000"/><text x="478.6" y="474.0" class="bt" text-anchor="start" style="font-size:9.2px;stroke:#111;stroke-width:0.3px" transform="translate(478.6,0) scale(1.38,1) translate(-478.6,0)">CD25-</text>
</svg>
</body></html>
